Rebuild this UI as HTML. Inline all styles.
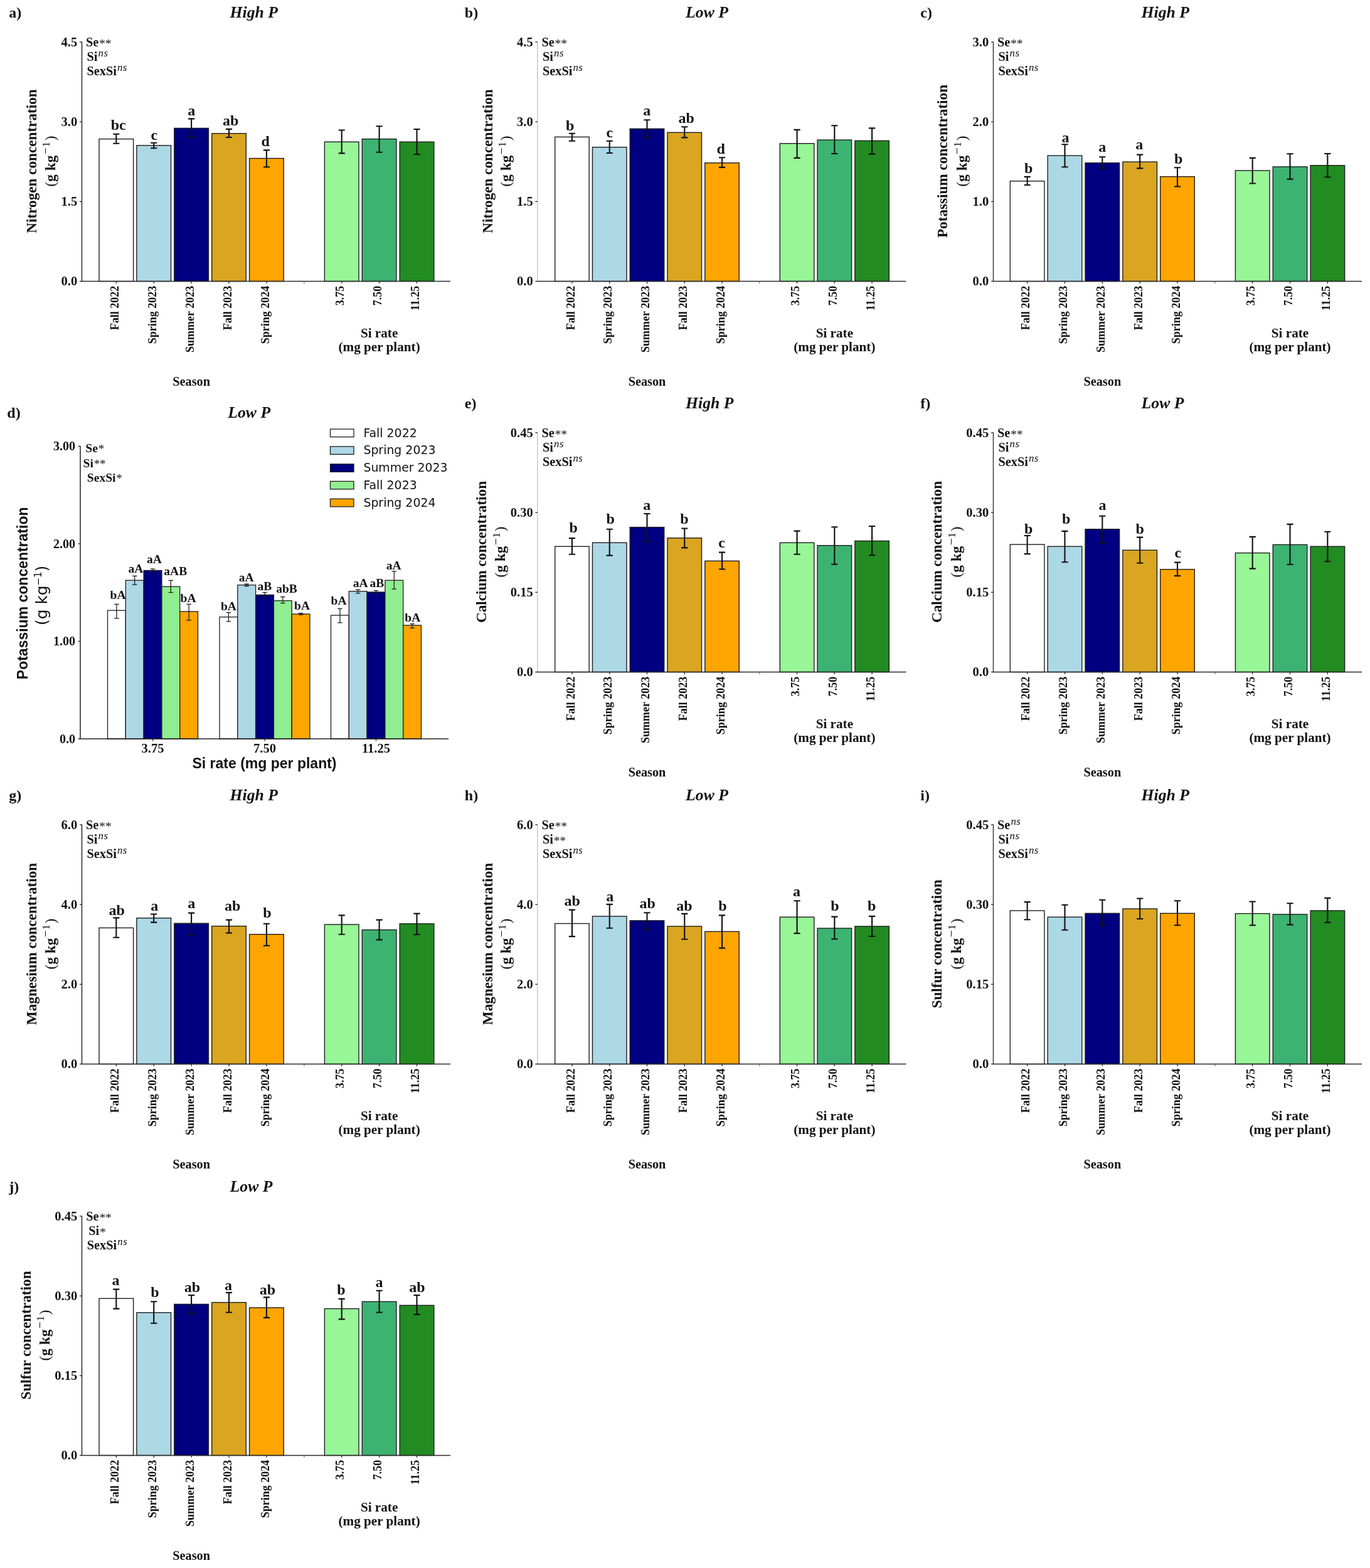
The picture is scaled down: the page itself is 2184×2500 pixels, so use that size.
<!DOCTYPE html>
<html><head><meta charset="utf-8"><title>Figure</title>
<style>html,body{margin:0;padding:0;background:#fff;}svg{display:block;}</style>
</head><body>
<svg width="2184" height="2500" viewBox="0 0 2184 2500">
<rect width="2184" height="2500" fill="#ffffff"/>
<text x="14.3" y="28.4" font-family="'Liberation Serif', 'Times New Roman', serif" font-weight="bold" font-size="24" fill="#111">a)</text>
<text x="366.6" y="28.1" font-family="'Liberation Serif', 'Times New Roman', serif" font-weight="bold" font-style="italic" font-size="25.7" fill="#111">High P</text>
<rect x="158" y="221.6" width="54.63" height="226.9" fill="#ffffff" stroke="#1e1e1e" stroke-width="1.4"/>
<rect x="217.9" y="231.9" width="54.63" height="216.6" fill="#add8e6" stroke="#1e1e1e" stroke-width="1.4"/>
<rect x="277.8" y="204.4" width="54.63" height="244.1" fill="#000080" stroke="#1e1e1e" stroke-width="1.4"/>
<rect x="337.7" y="212.8" width="54.63" height="235.7" fill="#daa520" stroke="#1e1e1e" stroke-width="1.4"/>
<rect x="397.6" y="252.5" width="54.63" height="196" fill="#ffa500" stroke="#1e1e1e" stroke-width="1.4"/>
<rect x="517.4" y="226.25" width="54.63" height="222.25" fill="#98f598" stroke="#1e1e1e" stroke-width="1.4"/>
<rect x="577.3" y="221.6" width="54.63" height="226.9" fill="#3cb371" stroke="#1e1e1e" stroke-width="1.4"/>
<rect x="637.2" y="226.25" width="54.63" height="222.25" fill="#228b22" stroke="#1e1e1e" stroke-width="1.4"/>
<path d="M185.31 213.75V228.75M180.21 213.75H190.41M180.21 228.75H190.41" stroke="#111" stroke-width="2.1" fill="none"/>
<path d="M245.21 227.8V236.25M240.11 227.8H250.31M240.11 236.25H250.31" stroke="#111" stroke-width="2.1" fill="none"/>
<path d="M305.11 189.4V218.4M300.01 189.4H310.21M300.01 218.4H310.21" stroke="#111" stroke-width="2.1" fill="none"/>
<path d="M365.01 205.9V219M359.91 205.9H370.11M359.91 219H370.11" stroke="#111" stroke-width="2.1" fill="none"/>
<path d="M424.91 239.4V266.25M419.81 239.4H430.01M419.81 266.25H430.01" stroke="#111" stroke-width="2.1" fill="none"/>
<path d="M544.71 207.5V244.4M539.61 207.5H549.81M539.61 244.4H549.81" stroke="#111" stroke-width="2.1" fill="none"/>
<path d="M604.61 201.25V242.8M599.51 201.25H609.71M599.51 242.8H609.71" stroke="#111" stroke-width="2.1" fill="none"/>
<path d="M664.51 206V246M659.41 206H669.61M659.41 246H669.61" stroke="#111" stroke-width="2.1" fill="none"/>
<text x="188.75" y="206.9" text-anchor="middle" font-family="'Liberation Serif', 'Times New Roman', serif" font-weight="bold" font-size="24" fill="#111">bc</text>
<text x="245.8" y="222.5" text-anchor="middle" font-family="'Liberation Serif', 'Times New Roman', serif" font-weight="bold" font-size="24" fill="#111">c</text>
<text x="305.3" y="184" text-anchor="middle" font-family="'Liberation Serif', 'Times New Roman', serif" font-weight="bold" font-size="24" fill="#111">a</text>
<text x="367.8" y="199.7" text-anchor="middle" font-family="'Liberation Serif', 'Times New Roman', serif" font-weight="bold" font-size="24" fill="#111">ab</text>
<text x="423.3" y="233.1" text-anchor="middle" font-family="'Liberation Serif', 'Times New Roman', serif" font-weight="bold" font-size="24" fill="#111">d</text>
<line x1="130.5" y1="66.5" x2="130.5" y2="448.5" stroke="#2a2a2a" stroke-width="1.5"/>
<line x1="129.8" y1="448.5" x2="718" y2="448.5" stroke="#2a2a2a" stroke-width="1.6"/>
<line x1="127" y1="448.5" x2="130.5" y2="448.5" stroke="#2a2a2a" stroke-width="1.3"/>
<text x="123.2" y="455.4" text-anchor="end" font-family="'Liberation Serif', 'Times New Roman', serif" font-weight="bold" font-size="20.5" fill="#111">0.0</text>
<line x1="127" y1="321.33" x2="130.5" y2="321.33" stroke="#2a2a2a" stroke-width="1.3"/>
<text x="123.2" y="328.23" text-anchor="end" font-family="'Liberation Serif', 'Times New Roman', serif" font-weight="bold" font-size="20.5" fill="#111">1.5</text>
<line x1="127" y1="194.17" x2="130.5" y2="194.17" stroke="#2a2a2a" stroke-width="1.3"/>
<text x="123.2" y="201.07" text-anchor="end" font-family="'Liberation Serif', 'Times New Roman', serif" font-weight="bold" font-size="20.5" fill="#111">3.0</text>
<line x1="127" y1="67" x2="130.5" y2="67" stroke="#2a2a2a" stroke-width="1.3"/>
<text x="123.2" y="73.9" text-anchor="end" font-family="'Liberation Serif', 'Times New Roman', serif" font-weight="bold" font-size="20.5" fill="#111">4.5</text>
<line x1="185.31" y1="448.5" x2="185.31" y2="452" stroke="#2a2a2a" stroke-width="1.3"/>
<line x1="245.21" y1="448.5" x2="245.21" y2="452" stroke="#2a2a2a" stroke-width="1.3"/>
<line x1="305.11" y1="448.5" x2="305.11" y2="452" stroke="#2a2a2a" stroke-width="1.3"/>
<line x1="365.01" y1="448.5" x2="365.01" y2="452" stroke="#2a2a2a" stroke-width="1.3"/>
<line x1="424.91" y1="448.5" x2="424.91" y2="452" stroke="#2a2a2a" stroke-width="1.3"/>
<line x1="484.81" y1="448.5" x2="484.81" y2="452" stroke="#777" stroke-width="1.3"/>
<line x1="544.71" y1="448.5" x2="544.71" y2="452" stroke="#2a2a2a" stroke-width="1.3"/>
<line x1="604.61" y1="448.5" x2="604.61" y2="452" stroke="#2a2a2a" stroke-width="1.3"/>
<line x1="664.51" y1="448.5" x2="664.51" y2="452" stroke="#2a2a2a" stroke-width="1.3"/>
<text transform="translate(188.91,455.8) rotate(-90)" text-anchor="end" font-family="'Liberation Serif', 'Times New Roman', serif" font-weight="bold" font-size="18.0" fill="#111">Fall 2022</text>
<text transform="translate(248.81,455.8) rotate(-90)" text-anchor="end" font-family="'Liberation Serif', 'Times New Roman', serif" font-weight="bold" font-size="18.0" fill="#111">Spring 2023</text>
<text transform="translate(308.71,455.8) rotate(-90)" text-anchor="end" font-family="'Liberation Serif', 'Times New Roman', serif" font-weight="bold" font-size="18.0" fill="#111">Summer 2023</text>
<text transform="translate(368.61,455.8) rotate(-90)" text-anchor="end" font-family="'Liberation Serif', 'Times New Roman', serif" font-weight="bold" font-size="18.0" fill="#111">Fall 2023</text>
<text transform="translate(428.51,455.8) rotate(-90)" text-anchor="end" font-family="'Liberation Serif', 'Times New Roman', serif" font-weight="bold" font-size="18.0" fill="#111">Spring 2024</text>
<text transform="translate(548.31,455.8) rotate(-90)" text-anchor="end" font-family="'Liberation Serif', 'Times New Roman', serif" font-weight="bold" font-size="18.0" fill="#111">3.75</text>
<text transform="translate(608.21,455.8) rotate(-90)" text-anchor="end" font-family="'Liberation Serif', 'Times New Roman', serif" font-weight="bold" font-size="18.0" fill="#111">7.50</text>
<text transform="translate(668.11,455.8) rotate(-90)" text-anchor="end" font-family="'Liberation Serif', 'Times New Roman', serif" font-weight="bold" font-size="18.0" fill="#111">11.25</text>
<text x="604.61" y="537.8" text-anchor="middle" font-family="'Liberation Serif', 'Times New Roman', serif" font-weight="bold" font-size="21.2" fill="#111">Si rate</text>
<text x="604.61" y="559.8" text-anchor="middle" font-family="'Liberation Serif', 'Times New Roman', serif" font-weight="bold" font-size="21.2" fill="#111">(mg per plant)</text>
<text x="305.11" y="614.5" text-anchor="middle" font-family="'Liberation Serif', 'Times New Roman', serif" font-weight="bold" font-size="20.3" fill="#111">Season</text>
<text x="137" y="74.4" font-family="'Liberation Serif', 'Times New Roman', serif" font-weight="bold" font-size="20.3" fill="#111">Se<tspan font-weight="normal" font-size="19.89" dx="0.8" dy="1.4" letter-spacing="-0.3">**</tspan></text>
<text x="138.5" y="97.2" font-family="'Liberation Serif', 'Times New Roman', serif" font-weight="bold" font-size="20.3" fill="#111">Si<tspan font-weight="normal" font-style="italic" font-size="16.85" dy="-7.4" dx="1.2" letter-spacing="0.4">ns</tspan></text>
<text x="138.5" y="120.2" font-family="'Liberation Serif', 'Times New Roman', serif" font-weight="bold" font-size="20.3" fill="#111">SexSi<tspan font-weight="normal" font-style="italic" font-size="16.85" dy="-7.4" dx="1.2" letter-spacing="0.4">ns</tspan></text>
<text transform="translate(58,257) rotate(-90)" text-anchor="middle" font-family="'Liberation Serif', 'Times New Roman', serif" font-weight="bold" font-size="23.2" fill="#111">Nitrogen concentration</text>
<text transform="translate(87.6,257) rotate(-90)" text-anchor="middle" font-family="'Liberation Serif', 'Times New Roman', serif" font-weight="bold" font-size="23.2" fill="#111"><tspan font-weight="normal">(</tspan>g kg<tspan font-weight="normal" font-size="19.72" dy="-8.5" dx="1.5">−</tspan><tspan font-weight="normal" font-size="17.63" dx="0.5">1</tspan><tspan font-weight="normal" dy="8.5" dx="1.5">)</tspan></text>
<text x="740.8" y="28.4" font-family="'Liberation Serif', 'Times New Roman', serif" font-weight="bold" font-size="24" fill="#111">b)</text>
<text x="1093.1" y="28.1" font-family="'Liberation Serif', 'Times New Roman', serif" font-weight="bold" font-style="italic" font-size="25.7" fill="#111">Low P</text>
<rect x="884.7" y="218.4" width="54.51" height="230.1" fill="#ffffff" stroke="#1e1e1e" stroke-width="1.4"/>
<rect x="944.47" y="234.7" width="54.51" height="213.8" fill="#add8e6" stroke="#1e1e1e" stroke-width="1.4"/>
<rect x="1004.24" y="205.3" width="54.51" height="243.2" fill="#000080" stroke="#1e1e1e" stroke-width="1.4"/>
<rect x="1064.01" y="211.25" width="54.51" height="237.25" fill="#daa520" stroke="#1e1e1e" stroke-width="1.4"/>
<rect x="1123.78" y="259.7" width="54.51" height="188.8" fill="#ffa500" stroke="#1e1e1e" stroke-width="1.4"/>
<rect x="1243.32" y="228.75" width="54.51" height="219.75" fill="#98f598" stroke="#1e1e1e" stroke-width="1.4"/>
<rect x="1303.09" y="223.1" width="54.51" height="225.4" fill="#3cb371" stroke="#1e1e1e" stroke-width="1.4"/>
<rect x="1362.86" y="224.4" width="54.51" height="224.1" fill="#228b22" stroke="#1e1e1e" stroke-width="1.4"/>
<path d="M911.96 212.8V224.7M906.86 212.8H917.06M906.86 224.7H917.06" stroke="#111" stroke-width="2.1" fill="none"/>
<path d="M971.73 224.7V244M966.63 224.7H976.83M966.63 244H976.83" stroke="#111" stroke-width="2.1" fill="none"/>
<path d="M1031.5 191.25V219.4M1026.4 191.25H1036.6M1026.4 219.4H1036.6" stroke="#111" stroke-width="2.1" fill="none"/>
<path d="M1091.27 202.2V219.4M1086.17 202.2H1096.37M1086.17 219.4H1096.37" stroke="#111" stroke-width="2.1" fill="none"/>
<path d="M1151.04 251.25V266.9M1145.94 251.25H1156.14M1145.94 266.9H1156.14" stroke="#111" stroke-width="2.1" fill="none"/>
<path d="M1270.58 206.9V251.9M1265.48 206.9H1275.68M1265.48 251.9H1275.68" stroke="#111" stroke-width="2.1" fill="none"/>
<path d="M1330.35 200.3V245M1325.25 200.3H1335.45M1325.25 245H1335.45" stroke="#111" stroke-width="2.1" fill="none"/>
<path d="M1390.12 204.4V245.6M1385.02 204.4H1395.22M1385.02 245.6H1395.22" stroke="#111" stroke-width="2.1" fill="none"/>
<text x="908.8" y="207.5" text-anchor="middle" font-family="'Liberation Serif', 'Times New Roman', serif" font-weight="bold" font-size="24" fill="#111">b</text>
<text x="971.8" y="219" text-anchor="middle" font-family="'Liberation Serif', 'Times New Roman', serif" font-weight="bold" font-size="24" fill="#111">c</text>
<text x="1031.3" y="184" text-anchor="middle" font-family="'Liberation Serif', 'Times New Roman', serif" font-weight="bold" font-size="24" fill="#111">a</text>
<text x="1094.1" y="196" text-anchor="middle" font-family="'Liberation Serif', 'Times New Roman', serif" font-weight="bold" font-size="24" fill="#111">ab</text>
<text x="1149.3" y="245" text-anchor="middle" font-family="'Liberation Serif', 'Times New Roman', serif" font-weight="bold" font-size="24" fill="#111">d</text>
<line x1="856.8" y1="66.5" x2="856.8" y2="448.5" stroke="#c8c8c8" stroke-width="1.5"/>
<line x1="856.1" y1="448.5" x2="1444.5" y2="448.5" stroke="#2a2a2a" stroke-width="1.6"/>
<line x1="853.3" y1="448.5" x2="856.8" y2="448.5" stroke="#2a2a2a" stroke-width="1.3"/>
<text x="849.7" y="455.4" text-anchor="end" font-family="'Liberation Serif', 'Times New Roman', serif" font-weight="bold" font-size="20.5" fill="#111">0.0</text>
<line x1="853.3" y1="321.33" x2="856.8" y2="321.33" stroke="#2a2a2a" stroke-width="1.3"/>
<text x="849.7" y="328.23" text-anchor="end" font-family="'Liberation Serif', 'Times New Roman', serif" font-weight="bold" font-size="20.5" fill="#111">1.5</text>
<line x1="853.3" y1="194.17" x2="856.8" y2="194.17" stroke="#2a2a2a" stroke-width="1.3"/>
<text x="849.7" y="201.07" text-anchor="end" font-family="'Liberation Serif', 'Times New Roman', serif" font-weight="bold" font-size="20.5" fill="#111">3.0</text>
<line x1="853.3" y1="67" x2="856.8" y2="67" stroke="#2a2a2a" stroke-width="1.3"/>
<text x="849.7" y="73.9" text-anchor="end" font-family="'Liberation Serif', 'Times New Roman', serif" font-weight="bold" font-size="20.5" fill="#111">4.5</text>
<line x1="911.96" y1="448.5" x2="911.96" y2="452" stroke="#2a2a2a" stroke-width="1.3"/>
<line x1="971.73" y1="448.5" x2="971.73" y2="452" stroke="#2a2a2a" stroke-width="1.3"/>
<line x1="1031.5" y1="448.5" x2="1031.5" y2="452" stroke="#2a2a2a" stroke-width="1.3"/>
<line x1="1091.27" y1="448.5" x2="1091.27" y2="452" stroke="#2a2a2a" stroke-width="1.3"/>
<line x1="1151.04" y1="448.5" x2="1151.04" y2="452" stroke="#2a2a2a" stroke-width="1.3"/>
<line x1="1210.81" y1="448.5" x2="1210.81" y2="452" stroke="#777" stroke-width="1.3"/>
<line x1="1270.58" y1="448.5" x2="1270.58" y2="452" stroke="#2a2a2a" stroke-width="1.3"/>
<line x1="1330.35" y1="448.5" x2="1330.35" y2="452" stroke="#2a2a2a" stroke-width="1.3"/>
<line x1="1390.12" y1="448.5" x2="1390.12" y2="452" stroke="#2a2a2a" stroke-width="1.3"/>
<text transform="translate(915.56,455.8) rotate(-90)" text-anchor="end" font-family="'Liberation Serif', 'Times New Roman', serif" font-weight="bold" font-size="18.0" fill="#111">Fall 2022</text>
<text transform="translate(975.33,455.8) rotate(-90)" text-anchor="end" font-family="'Liberation Serif', 'Times New Roman', serif" font-weight="bold" font-size="18.0" fill="#111">Spring 2023</text>
<text transform="translate(1035.1,455.8) rotate(-90)" text-anchor="end" font-family="'Liberation Serif', 'Times New Roman', serif" font-weight="bold" font-size="18.0" fill="#111">Summer 2023</text>
<text transform="translate(1094.87,455.8) rotate(-90)" text-anchor="end" font-family="'Liberation Serif', 'Times New Roman', serif" font-weight="bold" font-size="18.0" fill="#111">Fall 2023</text>
<text transform="translate(1154.64,455.8) rotate(-90)" text-anchor="end" font-family="'Liberation Serif', 'Times New Roman', serif" font-weight="bold" font-size="18.0" fill="#111">Spring 2024</text>
<text transform="translate(1274.18,455.8) rotate(-90)" text-anchor="end" font-family="'Liberation Serif', 'Times New Roman', serif" font-weight="bold" font-size="18.0" fill="#111">3.75</text>
<text transform="translate(1333.95,455.8) rotate(-90)" text-anchor="end" font-family="'Liberation Serif', 'Times New Roman', serif" font-weight="bold" font-size="18.0" fill="#111">7.50</text>
<text transform="translate(1393.72,455.8) rotate(-90)" text-anchor="end" font-family="'Liberation Serif', 'Times New Roman', serif" font-weight="bold" font-size="18.0" fill="#111">11.25</text>
<text x="1330.35" y="537.8" text-anchor="middle" font-family="'Liberation Serif', 'Times New Roman', serif" font-weight="bold" font-size="21.2" fill="#111">Si rate</text>
<text x="1330.35" y="559.8" text-anchor="middle" font-family="'Liberation Serif', 'Times New Roman', serif" font-weight="bold" font-size="21.2" fill="#111">(mg per plant)</text>
<text x="1031.5" y="614.5" text-anchor="middle" font-family="'Liberation Serif', 'Times New Roman', serif" font-weight="bold" font-size="20.3" fill="#111">Season</text>
<text x="863.5" y="74.4" font-family="'Liberation Serif', 'Times New Roman', serif" font-weight="bold" font-size="20.3" fill="#111">Se<tspan font-weight="normal" font-size="19.89" dx="0.8" dy="1.4" letter-spacing="-0.3">**</tspan></text>
<text x="865" y="97.2" font-family="'Liberation Serif', 'Times New Roman', serif" font-weight="bold" font-size="20.3" fill="#111">Si<tspan font-weight="normal" font-style="italic" font-size="16.85" dy="-7.4" dx="1.2" letter-spacing="0.4">ns</tspan></text>
<text x="865" y="120.2" font-family="'Liberation Serif', 'Times New Roman', serif" font-weight="bold" font-size="20.3" fill="#111">SexSi<tspan font-weight="normal" font-style="italic" font-size="16.85" dy="-7.4" dx="1.2" letter-spacing="0.4">ns</tspan></text>
<text transform="translate(784.5,257) rotate(-90)" text-anchor="middle" font-family="'Liberation Serif', 'Times New Roman', serif" font-weight="bold" font-size="23.2" fill="#111">Nitrogen concentration</text>
<text transform="translate(814.1,257) rotate(-90)" text-anchor="middle" font-family="'Liberation Serif', 'Times New Roman', serif" font-weight="bold" font-size="23.2" fill="#111"><tspan font-weight="normal">(</tspan>g kg<tspan font-weight="normal" font-size="19.72" dy="-8.5" dx="1.5">−</tspan><tspan font-weight="normal" font-size="17.63" dx="0.5">1</tspan><tspan font-weight="normal" dy="8.5" dx="1.5">)</tspan></text>
<text x="1467.3" y="28.4" font-family="'Liberation Serif', 'Times New Roman', serif" font-weight="bold" font-size="24" fill="#111">c)</text>
<text x="1819.6" y="28.1" font-family="'Liberation Serif', 'Times New Roman', serif" font-weight="bold" font-style="italic" font-size="25.7" fill="#111">High P</text>
<rect x="1610.35" y="288.75" width="54.57" height="159.75" fill="#ffffff" stroke="#1e1e1e" stroke-width="1.4"/>
<rect x="1670.19" y="248.1" width="54.57" height="200.4" fill="#add8e6" stroke="#1e1e1e" stroke-width="1.4"/>
<rect x="1730.03" y="259.7" width="54.57" height="188.8" fill="#000080" stroke="#1e1e1e" stroke-width="1.4"/>
<rect x="1789.87" y="258.1" width="54.57" height="190.4" fill="#daa520" stroke="#1e1e1e" stroke-width="1.4"/>
<rect x="1849.71" y="281.6" width="54.57" height="166.9" fill="#ffa500" stroke="#1e1e1e" stroke-width="1.4"/>
<rect x="1969.39" y="271.9" width="54.57" height="176.6" fill="#98f598" stroke="#1e1e1e" stroke-width="1.4"/>
<rect x="2029.23" y="265.9" width="54.57" height="182.6" fill="#3cb371" stroke="#1e1e1e" stroke-width="1.4"/>
<rect x="2089.07" y="263.75" width="54.57" height="184.75" fill="#228b22" stroke="#1e1e1e" stroke-width="1.4"/>
<path d="M1637.64 281.9V295M1632.54 281.9H1642.74M1632.54 295H1642.74" stroke="#111" stroke-width="2.1" fill="none"/>
<path d="M1697.48 230.3V266.25M1692.38 230.3H1702.58M1692.38 266.25H1702.58" stroke="#111" stroke-width="2.1" fill="none"/>
<path d="M1757.32 250.3V268.4M1752.22 250.3H1762.42M1752.22 268.4H1762.42" stroke="#111" stroke-width="2.1" fill="none"/>
<path d="M1817.16 246.6V268.4M1812.06 246.6H1822.26M1812.06 268.4H1822.26" stroke="#111" stroke-width="2.1" fill="none"/>
<path d="M1877 267.2V297.5M1871.9 267.2H1882.1M1871.9 297.5H1882.1" stroke="#111" stroke-width="2.1" fill="none"/>
<path d="M1996.68 251.9V292.5M1991.58 251.9H2001.78M1991.58 292.5H2001.78" stroke="#111" stroke-width="2.1" fill="none"/>
<path d="M2056.52 245.3V285.6M2051.42 245.3H2061.62M2051.42 285.6H2061.62" stroke="#111" stroke-width="2.1" fill="none"/>
<path d="M2116.36 245V282.5M2111.26 245H2121.46M2111.26 282.5H2121.46" stroke="#111" stroke-width="2.1" fill="none"/>
<text x="1639.75" y="276.25" text-anchor="middle" font-family="'Liberation Serif', 'Times New Roman', serif" font-weight="bold" font-size="24" fill="#111">b</text>
<text x="1698.5" y="226.9" text-anchor="middle" font-family="'Liberation Serif', 'Times New Roman', serif" font-weight="bold" font-size="24" fill="#111">a</text>
<text x="1757.25" y="241.9" text-anchor="middle" font-family="'Liberation Serif', 'Times New Roman', serif" font-weight="bold" font-size="24" fill="#111">a</text>
<text x="1816.2" y="238.1" text-anchor="middle" font-family="'Liberation Serif', 'Times New Roman', serif" font-weight="bold" font-size="24" fill="#111">a</text>
<text x="1878.8" y="260.6" text-anchor="middle" font-family="'Liberation Serif', 'Times New Roman', serif" font-weight="bold" font-size="24" fill="#111">b</text>
<line x1="1583.5" y1="66.5" x2="1583.5" y2="448.5" stroke="#3a3a3a" stroke-width="1.5"/>
<line x1="1582.8" y1="448.5" x2="2171" y2="448.5" stroke="#2a2a2a" stroke-width="1.6"/>
<line x1="1580" y1="448.5" x2="1583.5" y2="448.5" stroke="#2a2a2a" stroke-width="1.3"/>
<text x="1576.2" y="455.4" text-anchor="end" font-family="'Liberation Serif', 'Times New Roman', serif" font-weight="bold" font-size="20.5" fill="#111">0.0</text>
<line x1="1580" y1="321.33" x2="1583.5" y2="321.33" stroke="#2a2a2a" stroke-width="1.3"/>
<text x="1576.2" y="328.23" text-anchor="end" font-family="'Liberation Serif', 'Times New Roman', serif" font-weight="bold" font-size="20.5" fill="#111">1.0</text>
<line x1="1580" y1="194.17" x2="1583.5" y2="194.17" stroke="#2a2a2a" stroke-width="1.3"/>
<text x="1576.2" y="201.07" text-anchor="end" font-family="'Liberation Serif', 'Times New Roman', serif" font-weight="bold" font-size="20.5" fill="#111">2.0</text>
<line x1="1580" y1="67" x2="1583.5" y2="67" stroke="#2a2a2a" stroke-width="1.3"/>
<text x="1576.2" y="73.9" text-anchor="end" font-family="'Liberation Serif', 'Times New Roman', serif" font-weight="bold" font-size="20.5" fill="#111">3.0</text>
<line x1="1637.64" y1="448.5" x2="1637.64" y2="452" stroke="#2a2a2a" stroke-width="1.3"/>
<line x1="1697.48" y1="448.5" x2="1697.48" y2="452" stroke="#2a2a2a" stroke-width="1.3"/>
<line x1="1757.32" y1="448.5" x2="1757.32" y2="452" stroke="#2a2a2a" stroke-width="1.3"/>
<line x1="1817.16" y1="448.5" x2="1817.16" y2="452" stroke="#2a2a2a" stroke-width="1.3"/>
<line x1="1877" y1="448.5" x2="1877" y2="452" stroke="#2a2a2a" stroke-width="1.3"/>
<line x1="1936.84" y1="448.5" x2="1936.84" y2="452" stroke="#777" stroke-width="1.3"/>
<line x1="1996.68" y1="448.5" x2="1996.68" y2="452" stroke="#2a2a2a" stroke-width="1.3"/>
<line x1="2056.52" y1="448.5" x2="2056.52" y2="452" stroke="#2a2a2a" stroke-width="1.3"/>
<line x1="2116.36" y1="448.5" x2="2116.36" y2="452" stroke="#2a2a2a" stroke-width="1.3"/>
<text transform="translate(1641.24,455.8) rotate(-90)" text-anchor="end" font-family="'Liberation Serif', 'Times New Roman', serif" font-weight="bold" font-size="18.0" fill="#111">Fall 2022</text>
<text transform="translate(1701.08,455.8) rotate(-90)" text-anchor="end" font-family="'Liberation Serif', 'Times New Roman', serif" font-weight="bold" font-size="18.0" fill="#111">Spring 2023</text>
<text transform="translate(1760.92,455.8) rotate(-90)" text-anchor="end" font-family="'Liberation Serif', 'Times New Roman', serif" font-weight="bold" font-size="18.0" fill="#111">Summer 2023</text>
<text transform="translate(1820.76,455.8) rotate(-90)" text-anchor="end" font-family="'Liberation Serif', 'Times New Roman', serif" font-weight="bold" font-size="18.0" fill="#111">Fall 2023</text>
<text transform="translate(1880.6,455.8) rotate(-90)" text-anchor="end" font-family="'Liberation Serif', 'Times New Roman', serif" font-weight="bold" font-size="18.0" fill="#111">Spring 2024</text>
<text transform="translate(2000.28,455.8) rotate(-90)" text-anchor="end" font-family="'Liberation Serif', 'Times New Roman', serif" font-weight="bold" font-size="18.0" fill="#111">3.75</text>
<text transform="translate(2060.12,455.8) rotate(-90)" text-anchor="end" font-family="'Liberation Serif', 'Times New Roman', serif" font-weight="bold" font-size="18.0" fill="#111">7.50</text>
<text transform="translate(2119.96,455.8) rotate(-90)" text-anchor="end" font-family="'Liberation Serif', 'Times New Roman', serif" font-weight="bold" font-size="18.0" fill="#111">11.25</text>
<text x="2056.52" y="537.8" text-anchor="middle" font-family="'Liberation Serif', 'Times New Roman', serif" font-weight="bold" font-size="21.2" fill="#111">Si rate</text>
<text x="2056.52" y="559.8" text-anchor="middle" font-family="'Liberation Serif', 'Times New Roman', serif" font-weight="bold" font-size="21.2" fill="#111">(mg per plant)</text>
<text x="1757.32" y="614.5" text-anchor="middle" font-family="'Liberation Serif', 'Times New Roman', serif" font-weight="bold" font-size="20.3" fill="#111">Season</text>
<text x="1590" y="74.4" font-family="'Liberation Serif', 'Times New Roman', serif" font-weight="bold" font-size="20.3" fill="#111">Se<tspan font-weight="normal" font-size="19.89" dx="0.8" dy="1.4" letter-spacing="-0.3">**</tspan></text>
<text x="1591.5" y="97.2" font-family="'Liberation Serif', 'Times New Roman', serif" font-weight="bold" font-size="20.3" fill="#111">Si<tspan font-weight="normal" font-style="italic" font-size="16.85" dy="-7.4" dx="1.2" letter-spacing="0.4">ns</tspan></text>
<text x="1591.5" y="120.2" font-family="'Liberation Serif', 'Times New Roman', serif" font-weight="bold" font-size="20.3" fill="#111">SexSi<tspan font-weight="normal" font-style="italic" font-size="16.85" dy="-7.4" dx="1.2" letter-spacing="0.4">ns</tspan></text>
<text transform="translate(1510,257) rotate(-90)" text-anchor="middle" font-family="'Liberation Serif', 'Times New Roman', serif" font-weight="bold" font-size="23.2" fill="#111">Potassium concentration</text>
<text transform="translate(1540.5,257) rotate(-90)" text-anchor="middle" font-family="'Liberation Serif', 'Times New Roman', serif" font-weight="bold" font-size="23.2" fill="#111"><tspan font-weight="normal">(</tspan>g kg<tspan font-weight="normal" font-size="19.72" dy="-8.5" dx="1.5">−</tspan><tspan font-weight="normal" font-size="17.63" dx="0.5">1</tspan><tspan font-weight="normal" dy="8.5" dx="1.5">)</tspan></text>
<text x="740.8" y="651.4" font-family="'Liberation Serif', 'Times New Roman', serif" font-weight="bold" font-size="24" fill="#111">e)</text>
<text x="1093.1" y="651.1" font-family="'Liberation Serif', 'Times New Roman', serif" font-weight="bold" font-style="italic" font-size="25.7" fill="#111">High P</text>
<rect x="884.7" y="871.25" width="54.51" height="200.25" fill="#ffffff" stroke="#1e1e1e" stroke-width="1.4"/>
<rect x="944.47" y="865.3" width="54.51" height="206.2" fill="#add8e6" stroke="#1e1e1e" stroke-width="1.4"/>
<rect x="1004.24" y="840.6" width="54.51" height="230.9" fill="#000080" stroke="#1e1e1e" stroke-width="1.4"/>
<rect x="1064.01" y="857.8" width="54.51" height="213.7" fill="#daa520" stroke="#1e1e1e" stroke-width="1.4"/>
<rect x="1123.78" y="894.4" width="54.51" height="177.1" fill="#ffa500" stroke="#1e1e1e" stroke-width="1.4"/>
<rect x="1243.32" y="865.3" width="54.51" height="206.2" fill="#98f598" stroke="#1e1e1e" stroke-width="1.4"/>
<rect x="1303.09" y="869.7" width="54.51" height="201.8" fill="#3cb371" stroke="#1e1e1e" stroke-width="1.4"/>
<rect x="1362.86" y="862.5" width="54.51" height="209" fill="#228b22" stroke="#1e1e1e" stroke-width="1.4"/>
<path d="M911.96 858.1V883.75M906.86 858.1H917.06M906.86 883.75H917.06" stroke="#111" stroke-width="2.1" fill="none"/>
<path d="M971.73 843.75V885.6M966.63 843.75H976.83M966.63 885.6H976.83" stroke="#111" stroke-width="2.1" fill="none"/>
<path d="M1031.5 819V863.4M1026.4 819H1036.6M1026.4 863.4H1036.6" stroke="#111" stroke-width="2.1" fill="none"/>
<path d="M1091.27 842.5V873.4M1086.17 842.5H1096.37M1086.17 873.4H1096.37" stroke="#111" stroke-width="2.1" fill="none"/>
<path d="M1151.04 880.6V907.5M1145.94 880.6H1156.14M1145.94 907.5H1156.14" stroke="#111" stroke-width="2.1" fill="none"/>
<path d="M1270.58 846.6V883.75M1265.48 846.6H1275.68M1265.48 883.75H1275.68" stroke="#111" stroke-width="2.1" fill="none"/>
<path d="M1330.35 840.3V899.7M1325.25 840.3H1335.45M1325.25 899.7H1335.45" stroke="#111" stroke-width="2.1" fill="none"/>
<path d="M1390.12 839V885.3M1385.02 839H1395.22M1385.02 885.3H1395.22" stroke="#111" stroke-width="2.1" fill="none"/>
<text x="914.2" y="849.4" text-anchor="middle" font-family="'Liberation Serif', 'Times New Roman', serif" font-weight="bold" font-size="24" fill="#111">b</text>
<text x="973.2" y="834.7" text-anchor="middle" font-family="'Liberation Serif', 'Times New Roman', serif" font-weight="bold" font-size="24" fill="#111">b</text>
<text x="1031.3" y="812.5" text-anchor="middle" font-family="'Liberation Serif', 'Times New Roman', serif" font-weight="bold" font-size="24" fill="#111">a</text>
<text x="1091" y="834.7" text-anchor="middle" font-family="'Liberation Serif', 'Times New Roman', serif" font-weight="bold" font-size="24" fill="#111">b</text>
<text x="1150.5" y="872.8" text-anchor="middle" font-family="'Liberation Serif', 'Times New Roman', serif" font-weight="bold" font-size="24" fill="#111">c</text>
<line x1="856.8" y1="689.5" x2="856.8" y2="1071.5" stroke="#c8c8c8" stroke-width="1.5"/>
<line x1="856.1" y1="1071.5" x2="1444.5" y2="1071.5" stroke="#2a2a2a" stroke-width="1.6"/>
<line x1="853.3" y1="1071.5" x2="856.8" y2="1071.5" stroke="#2a2a2a" stroke-width="1.3"/>
<text x="849.7" y="1078.4" text-anchor="end" font-family="'Liberation Serif', 'Times New Roman', serif" font-weight="bold" font-size="20.5" fill="#111">0.0</text>
<line x1="853.3" y1="944.33" x2="856.8" y2="944.33" stroke="#2a2a2a" stroke-width="1.3"/>
<text x="849.7" y="951.23" text-anchor="end" font-family="'Liberation Serif', 'Times New Roman', serif" font-weight="bold" font-size="20.5" fill="#111">0.15</text>
<line x1="853.3" y1="817.17" x2="856.8" y2="817.17" stroke="#2a2a2a" stroke-width="1.3"/>
<text x="849.7" y="824.07" text-anchor="end" font-family="'Liberation Serif', 'Times New Roman', serif" font-weight="bold" font-size="20.5" fill="#111">0.30</text>
<line x1="853.3" y1="690" x2="856.8" y2="690" stroke="#2a2a2a" stroke-width="1.3"/>
<text x="849.7" y="696.9" text-anchor="end" font-family="'Liberation Serif', 'Times New Roman', serif" font-weight="bold" font-size="20.5" fill="#111">0.45</text>
<line x1="911.96" y1="1071.5" x2="911.96" y2="1075" stroke="#2a2a2a" stroke-width="1.3"/>
<line x1="971.73" y1="1071.5" x2="971.73" y2="1075" stroke="#2a2a2a" stroke-width="1.3"/>
<line x1="1031.5" y1="1071.5" x2="1031.5" y2="1075" stroke="#2a2a2a" stroke-width="1.3"/>
<line x1="1091.27" y1="1071.5" x2="1091.27" y2="1075" stroke="#2a2a2a" stroke-width="1.3"/>
<line x1="1151.04" y1="1071.5" x2="1151.04" y2="1075" stroke="#2a2a2a" stroke-width="1.3"/>
<line x1="1210.81" y1="1071.5" x2="1210.81" y2="1075" stroke="#777" stroke-width="1.3"/>
<line x1="1270.58" y1="1071.5" x2="1270.58" y2="1075" stroke="#2a2a2a" stroke-width="1.3"/>
<line x1="1330.35" y1="1071.5" x2="1330.35" y2="1075" stroke="#2a2a2a" stroke-width="1.3"/>
<line x1="1390.12" y1="1071.5" x2="1390.12" y2="1075" stroke="#2a2a2a" stroke-width="1.3"/>
<text transform="translate(915.56,1078.8) rotate(-90)" text-anchor="end" font-family="'Liberation Serif', 'Times New Roman', serif" font-weight="bold" font-size="18.0" fill="#111">Fall 2022</text>
<text transform="translate(975.33,1078.8) rotate(-90)" text-anchor="end" font-family="'Liberation Serif', 'Times New Roman', serif" font-weight="bold" font-size="18.0" fill="#111">Spring 2023</text>
<text transform="translate(1035.1,1078.8) rotate(-90)" text-anchor="end" font-family="'Liberation Serif', 'Times New Roman', serif" font-weight="bold" font-size="18.0" fill="#111">Summer 2023</text>
<text transform="translate(1094.87,1078.8) rotate(-90)" text-anchor="end" font-family="'Liberation Serif', 'Times New Roman', serif" font-weight="bold" font-size="18.0" fill="#111">Fall 2023</text>
<text transform="translate(1154.64,1078.8) rotate(-90)" text-anchor="end" font-family="'Liberation Serif', 'Times New Roman', serif" font-weight="bold" font-size="18.0" fill="#111">Spring 2024</text>
<text transform="translate(1274.18,1078.8) rotate(-90)" text-anchor="end" font-family="'Liberation Serif', 'Times New Roman', serif" font-weight="bold" font-size="18.0" fill="#111">3.75</text>
<text transform="translate(1333.95,1078.8) rotate(-90)" text-anchor="end" font-family="'Liberation Serif', 'Times New Roman', serif" font-weight="bold" font-size="18.0" fill="#111">7.50</text>
<text transform="translate(1393.72,1078.8) rotate(-90)" text-anchor="end" font-family="'Liberation Serif', 'Times New Roman', serif" font-weight="bold" font-size="18.0" fill="#111">11.25</text>
<text x="1330.35" y="1160.8" text-anchor="middle" font-family="'Liberation Serif', 'Times New Roman', serif" font-weight="bold" font-size="21.2" fill="#111">Si rate</text>
<text x="1330.35" y="1182.8" text-anchor="middle" font-family="'Liberation Serif', 'Times New Roman', serif" font-weight="bold" font-size="21.2" fill="#111">(mg per plant)</text>
<text x="1031.5" y="1237.5" text-anchor="middle" font-family="'Liberation Serif', 'Times New Roman', serif" font-weight="bold" font-size="20.3" fill="#111">Season</text>
<text x="863.5" y="697.4" font-family="'Liberation Serif', 'Times New Roman', serif" font-weight="bold" font-size="20.3" fill="#111">Se<tspan font-weight="normal" font-size="19.89" dx="0.8" dy="1.4" letter-spacing="-0.3">**</tspan></text>
<text x="865" y="720.2" font-family="'Liberation Serif', 'Times New Roman', serif" font-weight="bold" font-size="20.3" fill="#111">Si<tspan font-weight="normal" font-style="italic" font-size="16.85" dy="-7.4" dx="1.2" letter-spacing="0.4">ns</tspan></text>
<text x="865" y="743.2" font-family="'Liberation Serif', 'Times New Roman', serif" font-weight="bold" font-size="20.3" fill="#111">SexSi<tspan font-weight="normal" font-style="italic" font-size="16.85" dy="-7.4" dx="1.2" letter-spacing="0.4">ns</tspan></text>
<text transform="translate(774.7,880) rotate(-90)" text-anchor="middle" font-family="'Liberation Serif', 'Times New Roman', serif" font-weight="bold" font-size="23.2" fill="#111">Calcium concentration</text>
<text transform="translate(805,880) rotate(-90)" text-anchor="middle" font-family="'Liberation Serif', 'Times New Roman', serif" font-weight="bold" font-size="23.2" fill="#111"><tspan font-weight="normal">(</tspan>g kg<tspan font-weight="normal" font-size="19.72" dy="-8.5" dx="1.5">−</tspan><tspan font-weight="normal" font-size="17.63" dx="0.5">1</tspan><tspan font-weight="normal" dy="8.5" dx="1.5">)</tspan></text>
<text x="1467.3" y="651.4" font-family="'Liberation Serif', 'Times New Roman', serif" font-weight="bold" font-size="24" fill="#111">f)</text>
<text x="1819.6" y="651.1" font-family="'Liberation Serif', 'Times New Roman', serif" font-weight="bold" font-style="italic" font-size="25.7" fill="#111">Low P</text>
<rect x="1610.35" y="868.1" width="54.57" height="203.4" fill="#ffffff" stroke="#1e1e1e" stroke-width="1.4"/>
<rect x="1670.19" y="871.25" width="54.57" height="200.25" fill="#add8e6" stroke="#1e1e1e" stroke-width="1.4"/>
<rect x="1730.03" y="843.75" width="54.57" height="227.75" fill="#000080" stroke="#1e1e1e" stroke-width="1.4"/>
<rect x="1789.87" y="877.2" width="54.57" height="194.3" fill="#daa520" stroke="#1e1e1e" stroke-width="1.4"/>
<rect x="1849.71" y="907.8" width="54.57" height="163.7" fill="#ffa500" stroke="#1e1e1e" stroke-width="1.4"/>
<rect x="1969.39" y="881.6" width="54.57" height="189.9" fill="#98f598" stroke="#1e1e1e" stroke-width="1.4"/>
<rect x="2029.23" y="868.4" width="54.57" height="203.1" fill="#3cb371" stroke="#1e1e1e" stroke-width="1.4"/>
<rect x="2089.07" y="871.25" width="54.57" height="200.25" fill="#228b22" stroke="#1e1e1e" stroke-width="1.4"/>
<path d="M1637.64 854V883.1M1632.54 854H1642.74M1632.54 883.1H1642.74" stroke="#111" stroke-width="2.1" fill="none"/>
<path d="M1697.48 846.9V896.25M1692.38 846.9H1702.58M1692.38 896.25H1702.58" stroke="#111" stroke-width="2.1" fill="none"/>
<path d="M1757.32 822.8V866.6M1752.22 822.8H1762.42M1752.22 866.6H1762.42" stroke="#111" stroke-width="2.1" fill="none"/>
<path d="M1817.16 856.6V897.8M1812.06 856.6H1822.26M1812.06 897.8H1822.26" stroke="#111" stroke-width="2.1" fill="none"/>
<path d="M1877 896.6V918.1M1871.9 896.6H1882.1M1871.9 918.1H1882.1" stroke="#111" stroke-width="2.1" fill="none"/>
<path d="M1996.68 855.9V906.6M1991.58 855.9H2001.78M1991.58 906.6H2001.78" stroke="#111" stroke-width="2.1" fill="none"/>
<path d="M2056.52 835.9V900M2051.42 835.9H2061.62M2051.42 900H2061.62" stroke="#111" stroke-width="2.1" fill="none"/>
<path d="M2116.36 847.8V895.3M2111.26 847.8H2121.46M2111.26 895.3H2121.46" stroke="#111" stroke-width="2.1" fill="none"/>
<text x="1639.75" y="850.9" text-anchor="middle" font-family="'Liberation Serif', 'Times New Roman', serif" font-weight="bold" font-size="24" fill="#111">b</text>
<text x="1699.75" y="835.3" text-anchor="middle" font-family="'Liberation Serif', 'Times New Roman', serif" font-weight="bold" font-size="24" fill="#111">b</text>
<text x="1757.4" y="812.5" text-anchor="middle" font-family="'Liberation Serif', 'Times New Roman', serif" font-weight="bold" font-size="24" fill="#111">a</text>
<text x="1817.25" y="850.9" text-anchor="middle" font-family="'Liberation Serif', 'Times New Roman', serif" font-weight="bold" font-size="24" fill="#111">b</text>
<text x="1877.75" y="889.4" text-anchor="middle" font-family="'Liberation Serif', 'Times New Roman', serif" font-weight="bold" font-size="24" fill="#111">c</text>
<line x1="1583.5" y1="689.5" x2="1583.5" y2="1071.5" stroke="#3a3a3a" stroke-width="1.5"/>
<line x1="1582.8" y1="1071.5" x2="2171" y2="1071.5" stroke="#2a2a2a" stroke-width="1.6"/>
<line x1="1580" y1="1071.5" x2="1583.5" y2="1071.5" stroke="#2a2a2a" stroke-width="1.3"/>
<text x="1576.2" y="1078.4" text-anchor="end" font-family="'Liberation Serif', 'Times New Roman', serif" font-weight="bold" font-size="20.5" fill="#111">0.0</text>
<line x1="1580" y1="944.33" x2="1583.5" y2="944.33" stroke="#2a2a2a" stroke-width="1.3"/>
<text x="1576.2" y="951.23" text-anchor="end" font-family="'Liberation Serif', 'Times New Roman', serif" font-weight="bold" font-size="20.5" fill="#111">0.15</text>
<line x1="1580" y1="817.17" x2="1583.5" y2="817.17" stroke="#2a2a2a" stroke-width="1.3"/>
<text x="1576.2" y="824.07" text-anchor="end" font-family="'Liberation Serif', 'Times New Roman', serif" font-weight="bold" font-size="20.5" fill="#111">0.30</text>
<line x1="1580" y1="690" x2="1583.5" y2="690" stroke="#2a2a2a" stroke-width="1.3"/>
<text x="1576.2" y="696.9" text-anchor="end" font-family="'Liberation Serif', 'Times New Roman', serif" font-weight="bold" font-size="20.5" fill="#111">0.45</text>
<line x1="1637.64" y1="1071.5" x2="1637.64" y2="1075" stroke="#2a2a2a" stroke-width="1.3"/>
<line x1="1697.48" y1="1071.5" x2="1697.48" y2="1075" stroke="#2a2a2a" stroke-width="1.3"/>
<line x1="1757.32" y1="1071.5" x2="1757.32" y2="1075" stroke="#2a2a2a" stroke-width="1.3"/>
<line x1="1817.16" y1="1071.5" x2="1817.16" y2="1075" stroke="#2a2a2a" stroke-width="1.3"/>
<line x1="1877" y1="1071.5" x2="1877" y2="1075" stroke="#2a2a2a" stroke-width="1.3"/>
<line x1="1936.84" y1="1071.5" x2="1936.84" y2="1075" stroke="#777" stroke-width="1.3"/>
<line x1="1996.68" y1="1071.5" x2="1996.68" y2="1075" stroke="#2a2a2a" stroke-width="1.3"/>
<line x1="2056.52" y1="1071.5" x2="2056.52" y2="1075" stroke="#2a2a2a" stroke-width="1.3"/>
<line x1="2116.36" y1="1071.5" x2="2116.36" y2="1075" stroke="#2a2a2a" stroke-width="1.3"/>
<text transform="translate(1641.24,1078.8) rotate(-90)" text-anchor="end" font-family="'Liberation Serif', 'Times New Roman', serif" font-weight="bold" font-size="18.0" fill="#111">Fall 2022</text>
<text transform="translate(1701.08,1078.8) rotate(-90)" text-anchor="end" font-family="'Liberation Serif', 'Times New Roman', serif" font-weight="bold" font-size="18.0" fill="#111">Spring 2023</text>
<text transform="translate(1760.92,1078.8) rotate(-90)" text-anchor="end" font-family="'Liberation Serif', 'Times New Roman', serif" font-weight="bold" font-size="18.0" fill="#111">Summer 2023</text>
<text transform="translate(1820.76,1078.8) rotate(-90)" text-anchor="end" font-family="'Liberation Serif', 'Times New Roman', serif" font-weight="bold" font-size="18.0" fill="#111">Fall 2023</text>
<text transform="translate(1880.6,1078.8) rotate(-90)" text-anchor="end" font-family="'Liberation Serif', 'Times New Roman', serif" font-weight="bold" font-size="18.0" fill="#111">Spring 2024</text>
<text transform="translate(2000.28,1078.8) rotate(-90)" text-anchor="end" font-family="'Liberation Serif', 'Times New Roman', serif" font-weight="bold" font-size="18.0" fill="#111">3.75</text>
<text transform="translate(2060.12,1078.8) rotate(-90)" text-anchor="end" font-family="'Liberation Serif', 'Times New Roman', serif" font-weight="bold" font-size="18.0" fill="#111">7.50</text>
<text transform="translate(2119.96,1078.8) rotate(-90)" text-anchor="end" font-family="'Liberation Serif', 'Times New Roman', serif" font-weight="bold" font-size="18.0" fill="#111">11.25</text>
<text x="2056.52" y="1160.8" text-anchor="middle" font-family="'Liberation Serif', 'Times New Roman', serif" font-weight="bold" font-size="21.2" fill="#111">Si rate</text>
<text x="2056.52" y="1182.8" text-anchor="middle" font-family="'Liberation Serif', 'Times New Roman', serif" font-weight="bold" font-size="21.2" fill="#111">(mg per plant)</text>
<text x="1757.32" y="1237.5" text-anchor="middle" font-family="'Liberation Serif', 'Times New Roman', serif" font-weight="bold" font-size="20.3" fill="#111">Season</text>
<text x="1590" y="697.4" font-family="'Liberation Serif', 'Times New Roman', serif" font-weight="bold" font-size="20.3" fill="#111">Se<tspan font-weight="normal" font-size="19.89" dx="0.8" dy="1.4" letter-spacing="-0.3">**</tspan></text>
<text x="1591.5" y="720.2" font-family="'Liberation Serif', 'Times New Roman', serif" font-weight="bold" font-size="20.3" fill="#111">Si<tspan font-weight="normal" font-style="italic" font-size="16.85" dy="-7.4" dx="1.2" letter-spacing="0.4">ns</tspan></text>
<text x="1591.5" y="743.2" font-family="'Liberation Serif', 'Times New Roman', serif" font-weight="bold" font-size="20.3" fill="#111">SexSi<tspan font-weight="normal" font-style="italic" font-size="16.85" dy="-7.4" dx="1.2" letter-spacing="0.4">ns</tspan></text>
<text transform="translate(1501.2,880) rotate(-90)" text-anchor="middle" font-family="'Liberation Serif', 'Times New Roman', serif" font-weight="bold" font-size="23.2" fill="#111">Calcium concentration</text>
<text transform="translate(1531.5,880) rotate(-90)" text-anchor="middle" font-family="'Liberation Serif', 'Times New Roman', serif" font-weight="bold" font-size="23.2" fill="#111"><tspan font-weight="normal">(</tspan>g kg<tspan font-weight="normal" font-size="19.72" dy="-8.5" dx="1.5">−</tspan><tspan font-weight="normal" font-size="17.63" dx="0.5">1</tspan><tspan font-weight="normal" dy="8.5" dx="1.5">)</tspan></text>
<text x="14.3" y="1276.4" font-family="'Liberation Serif', 'Times New Roman', serif" font-weight="bold" font-size="24" fill="#111">g)</text>
<text x="366.6" y="1276.1" font-family="'Liberation Serif', 'Times New Roman', serif" font-weight="bold" font-style="italic" font-size="25.7" fill="#111">High P</text>
<rect x="158" y="1479.4" width="54.63" height="217.1" fill="#ffffff" stroke="#1e1e1e" stroke-width="1.4"/>
<rect x="217.9" y="1463.75" width="54.63" height="232.75" fill="#add8e6" stroke="#1e1e1e" stroke-width="1.4"/>
<rect x="277.8" y="1472.2" width="54.63" height="224.3" fill="#000080" stroke="#1e1e1e" stroke-width="1.4"/>
<rect x="337.7" y="1476.6" width="54.63" height="219.9" fill="#daa520" stroke="#1e1e1e" stroke-width="1.4"/>
<rect x="397.6" y="1489.7" width="54.63" height="206.8" fill="#ffa500" stroke="#1e1e1e" stroke-width="1.4"/>
<rect x="517.4" y="1474" width="54.63" height="222.5" fill="#98f598" stroke="#1e1e1e" stroke-width="1.4"/>
<rect x="577.3" y="1482.5" width="54.63" height="214" fill="#3cb371" stroke="#1e1e1e" stroke-width="1.4"/>
<rect x="637.2" y="1472.8" width="54.63" height="223.7" fill="#228b22" stroke="#1e1e1e" stroke-width="1.4"/>
<path d="M185.31 1463.4V1494.7M180.21 1463.4H190.41M180.21 1494.7H190.41" stroke="#111" stroke-width="2.1" fill="none"/>
<path d="M245.21 1457.5V1470.6M240.11 1457.5H250.31M240.11 1470.6H250.31" stroke="#111" stroke-width="2.1" fill="none"/>
<path d="M305.11 1455.6V1491.25M300.01 1455.6H310.21M300.01 1491.25H310.21" stroke="#111" stroke-width="2.1" fill="none"/>
<path d="M365.01 1466.6V1487.5M359.91 1466.6H370.11M359.91 1487.5H370.11" stroke="#111" stroke-width="2.1" fill="none"/>
<path d="M424.91 1472.8V1507.8M419.81 1472.8H430.01M419.81 1507.8H430.01" stroke="#111" stroke-width="2.1" fill="none"/>
<path d="M544.71 1459.4V1489.7M539.61 1459.4H549.81M539.61 1489.7H549.81" stroke="#111" stroke-width="2.1" fill="none"/>
<path d="M604.61 1466.6V1498.4M599.51 1466.6H609.71M599.51 1498.4H609.71" stroke="#111" stroke-width="2.1" fill="none"/>
<path d="M664.51 1456.6V1490M659.41 1456.6H669.61M659.41 1490H669.61" stroke="#111" stroke-width="2.1" fill="none"/>
<text x="186.1" y="1459.4" text-anchor="middle" font-family="'Liberation Serif', 'Times New Roman', serif" font-weight="bold" font-size="24" fill="#111">ab</text>
<text x="246.25" y="1451.6" text-anchor="middle" font-family="'Liberation Serif', 'Times New Roman', serif" font-weight="bold" font-size="24" fill="#111">a</text>
<text x="305.3" y="1448.4" text-anchor="middle" font-family="'Liberation Serif', 'Times New Roman', serif" font-weight="bold" font-size="24" fill="#111">a</text>
<text x="370.8" y="1451.6" text-anchor="middle" font-family="'Liberation Serif', 'Times New Roman', serif" font-weight="bold" font-size="24" fill="#111">ab</text>
<text x="425.9" y="1462.5" text-anchor="middle" font-family="'Liberation Serif', 'Times New Roman', serif" font-weight="bold" font-size="24" fill="#111">b</text>
<line x1="130.5" y1="1314.5" x2="130.5" y2="1696.5" stroke="#2a2a2a" stroke-width="1.5"/>
<line x1="129.8" y1="1696.5" x2="718" y2="1696.5" stroke="#2a2a2a" stroke-width="1.6"/>
<line x1="127" y1="1696.5" x2="130.5" y2="1696.5" stroke="#2a2a2a" stroke-width="1.3"/>
<text x="123.2" y="1703.4" text-anchor="end" font-family="'Liberation Serif', 'Times New Roman', serif" font-weight="bold" font-size="20.5" fill="#111">0.0</text>
<line x1="127" y1="1569.33" x2="130.5" y2="1569.33" stroke="#2a2a2a" stroke-width="1.3"/>
<text x="123.2" y="1576.23" text-anchor="end" font-family="'Liberation Serif', 'Times New Roman', serif" font-weight="bold" font-size="20.5" fill="#111">2.0</text>
<line x1="127" y1="1442.17" x2="130.5" y2="1442.17" stroke="#2a2a2a" stroke-width="1.3"/>
<text x="123.2" y="1449.07" text-anchor="end" font-family="'Liberation Serif', 'Times New Roman', serif" font-weight="bold" font-size="20.5" fill="#111">4.0</text>
<line x1="127" y1="1315" x2="130.5" y2="1315" stroke="#2a2a2a" stroke-width="1.3"/>
<text x="123.2" y="1321.9" text-anchor="end" font-family="'Liberation Serif', 'Times New Roman', serif" font-weight="bold" font-size="20.5" fill="#111">6.0</text>
<line x1="185.31" y1="1696.5" x2="185.31" y2="1700" stroke="#2a2a2a" stroke-width="1.3"/>
<line x1="245.21" y1="1696.5" x2="245.21" y2="1700" stroke="#2a2a2a" stroke-width="1.3"/>
<line x1="305.11" y1="1696.5" x2="305.11" y2="1700" stroke="#2a2a2a" stroke-width="1.3"/>
<line x1="365.01" y1="1696.5" x2="365.01" y2="1700" stroke="#2a2a2a" stroke-width="1.3"/>
<line x1="424.91" y1="1696.5" x2="424.91" y2="1700" stroke="#2a2a2a" stroke-width="1.3"/>
<line x1="484.81" y1="1696.5" x2="484.81" y2="1700" stroke="#777" stroke-width="1.3"/>
<line x1="544.71" y1="1696.5" x2="544.71" y2="1700" stroke="#2a2a2a" stroke-width="1.3"/>
<line x1="604.61" y1="1696.5" x2="604.61" y2="1700" stroke="#2a2a2a" stroke-width="1.3"/>
<line x1="664.51" y1="1696.5" x2="664.51" y2="1700" stroke="#2a2a2a" stroke-width="1.3"/>
<text transform="translate(188.91,1703.8) rotate(-90)" text-anchor="end" font-family="'Liberation Serif', 'Times New Roman', serif" font-weight="bold" font-size="18.0" fill="#111">Fall 2022</text>
<text transform="translate(248.81,1703.8) rotate(-90)" text-anchor="end" font-family="'Liberation Serif', 'Times New Roman', serif" font-weight="bold" font-size="18.0" fill="#111">Spring 2023</text>
<text transform="translate(308.71,1703.8) rotate(-90)" text-anchor="end" font-family="'Liberation Serif', 'Times New Roman', serif" font-weight="bold" font-size="18.0" fill="#111">Summer 2023</text>
<text transform="translate(368.61,1703.8) rotate(-90)" text-anchor="end" font-family="'Liberation Serif', 'Times New Roman', serif" font-weight="bold" font-size="18.0" fill="#111">Fall 2023</text>
<text transform="translate(428.51,1703.8) rotate(-90)" text-anchor="end" font-family="'Liberation Serif', 'Times New Roman', serif" font-weight="bold" font-size="18.0" fill="#111">Spring 2024</text>
<text transform="translate(548.31,1703.8) rotate(-90)" text-anchor="end" font-family="'Liberation Serif', 'Times New Roman', serif" font-weight="bold" font-size="18.0" fill="#111">3.75</text>
<text transform="translate(608.21,1703.8) rotate(-90)" text-anchor="end" font-family="'Liberation Serif', 'Times New Roman', serif" font-weight="bold" font-size="18.0" fill="#111">7.50</text>
<text transform="translate(668.11,1703.8) rotate(-90)" text-anchor="end" font-family="'Liberation Serif', 'Times New Roman', serif" font-weight="bold" font-size="18.0" fill="#111">11.25</text>
<text x="604.61" y="1785.8" text-anchor="middle" font-family="'Liberation Serif', 'Times New Roman', serif" font-weight="bold" font-size="21.2" fill="#111">Si rate</text>
<text x="604.61" y="1807.8" text-anchor="middle" font-family="'Liberation Serif', 'Times New Roman', serif" font-weight="bold" font-size="21.2" fill="#111">(mg per plant)</text>
<text x="305.11" y="1862.5" text-anchor="middle" font-family="'Liberation Serif', 'Times New Roman', serif" font-weight="bold" font-size="20.3" fill="#111">Season</text>
<text x="137" y="1322.4" font-family="'Liberation Serif', 'Times New Roman', serif" font-weight="bold" font-size="20.3" fill="#111">Se<tspan font-weight="normal" font-size="19.89" dx="0.8" dy="1.4" letter-spacing="-0.3">**</tspan></text>
<text x="138.5" y="1345.2" font-family="'Liberation Serif', 'Times New Roman', serif" font-weight="bold" font-size="20.3" fill="#111">Si<tspan font-weight="normal" font-style="italic" font-size="16.85" dy="-7.4" dx="1.2" letter-spacing="0.4">ns</tspan></text>
<text x="138.5" y="1368.2" font-family="'Liberation Serif', 'Times New Roman', serif" font-weight="bold" font-size="20.3" fill="#111">SexSi<tspan font-weight="normal" font-style="italic" font-size="16.85" dy="-7.4" dx="1.2" letter-spacing="0.4">ns</tspan></text>
<text transform="translate(58,1505) rotate(-90)" text-anchor="middle" font-family="'Liberation Serif', 'Times New Roman', serif" font-weight="bold" font-size="23.2" fill="#111">Magnesium concentration</text>
<text transform="translate(87.6,1505) rotate(-90)" text-anchor="middle" font-family="'Liberation Serif', 'Times New Roman', serif" font-weight="bold" font-size="23.2" fill="#111"><tspan font-weight="normal">(</tspan>g kg<tspan font-weight="normal" font-size="19.72" dy="-8.5" dx="1.5">−</tspan><tspan font-weight="normal" font-size="17.63" dx="0.5">1</tspan><tspan font-weight="normal" dy="8.5" dx="1.5">)</tspan></text>
<text x="740.8" y="1276.4" font-family="'Liberation Serif', 'Times New Roman', serif" font-weight="bold" font-size="24" fill="#111">h)</text>
<text x="1093.1" y="1276.1" font-family="'Liberation Serif', 'Times New Roman', serif" font-weight="bold" font-style="italic" font-size="25.7" fill="#111">Low P</text>
<rect x="884.7" y="1472.5" width="54.51" height="224" fill="#ffffff" stroke="#1e1e1e" stroke-width="1.4"/>
<rect x="944.47" y="1460.9" width="54.51" height="235.6" fill="#add8e6" stroke="#1e1e1e" stroke-width="1.4"/>
<rect x="1004.24" y="1467.8" width="54.51" height="228.7" fill="#000080" stroke="#1e1e1e" stroke-width="1.4"/>
<rect x="1064.01" y="1476.9" width="54.51" height="219.6" fill="#daa520" stroke="#1e1e1e" stroke-width="1.4"/>
<rect x="1123.78" y="1485.3" width="54.51" height="211.2" fill="#ffa500" stroke="#1e1e1e" stroke-width="1.4"/>
<rect x="1243.32" y="1462.2" width="54.51" height="234.3" fill="#98f598" stroke="#1e1e1e" stroke-width="1.4"/>
<rect x="1303.09" y="1480" width="54.51" height="216.5" fill="#3cb371" stroke="#1e1e1e" stroke-width="1.4"/>
<rect x="1362.86" y="1476.9" width="54.51" height="219.6" fill="#228b22" stroke="#1e1e1e" stroke-width="1.4"/>
<path d="M911.96 1450.6V1493.1M906.86 1450.6H917.06M906.86 1493.1H917.06" stroke="#111" stroke-width="2.1" fill="none"/>
<path d="M971.73 1441.9V1479.7M966.63 1441.9H976.83M966.63 1479.7H976.83" stroke="#111" stroke-width="2.1" fill="none"/>
<path d="M1031.5 1455.3V1481.9M1026.4 1455.3H1036.6M1026.4 1481.9H1036.6" stroke="#111" stroke-width="2.1" fill="none"/>
<path d="M1091.27 1456.9V1497.5M1086.17 1456.9H1096.37M1086.17 1497.5H1096.37" stroke="#111" stroke-width="2.1" fill="none"/>
<path d="M1151.04 1459.4V1511.6M1145.94 1459.4H1156.14M1145.94 1511.6H1156.14" stroke="#111" stroke-width="2.1" fill="none"/>
<path d="M1270.58 1436.25V1488.1M1265.48 1436.25H1275.68M1265.48 1488.1H1275.68" stroke="#111" stroke-width="2.1" fill="none"/>
<path d="M1330.35 1461.6V1497.2M1325.25 1461.6H1335.45M1325.25 1497.2H1335.45" stroke="#111" stroke-width="2.1" fill="none"/>
<path d="M1390.12 1460.9V1492.8M1385.02 1460.9H1395.22M1385.02 1492.8H1395.22" stroke="#111" stroke-width="2.1" fill="none"/>
<text x="912.1" y="1443.75" text-anchor="middle" font-family="'Liberation Serif', 'Times New Roman', serif" font-weight="bold" font-size="24" fill="#111">ab</text>
<text x="972.25" y="1436.9" text-anchor="middle" font-family="'Liberation Serif', 'Times New Roman', serif" font-weight="bold" font-size="24" fill="#111">a</text>
<text x="1032.3" y="1447.8" text-anchor="middle" font-family="'Liberation Serif', 'Times New Roman', serif" font-weight="bold" font-size="24" fill="#111">ab</text>
<text x="1091" y="1451.6" text-anchor="middle" font-family="'Liberation Serif', 'Times New Roman', serif" font-weight="bold" font-size="24" fill="#111">ab</text>
<text x="1152" y="1451.6" text-anchor="middle" font-family="'Liberation Serif', 'Times New Roman', serif" font-weight="bold" font-size="24" fill="#111">b</text>
<text x="1269.9" y="1428.75" text-anchor="middle" font-family="'Liberation Serif', 'Times New Roman', serif" font-weight="bold" font-size="24" fill="#111">a</text>
<text x="1331" y="1451.6" text-anchor="middle" font-family="'Liberation Serif', 'Times New Roman', serif" font-weight="bold" font-size="24" fill="#111">b</text>
<text x="1389.75" y="1451.6" text-anchor="middle" font-family="'Liberation Serif', 'Times New Roman', serif" font-weight="bold" font-size="24" fill="#111">b</text>
<line x1="856.8" y1="1314.5" x2="856.8" y2="1696.5" stroke="#c8c8c8" stroke-width="1.5"/>
<line x1="856.1" y1="1696.5" x2="1444.5" y2="1696.5" stroke="#2a2a2a" stroke-width="1.6"/>
<line x1="853.3" y1="1696.5" x2="856.8" y2="1696.5" stroke="#2a2a2a" stroke-width="1.3"/>
<text x="849.7" y="1703.4" text-anchor="end" font-family="'Liberation Serif', 'Times New Roman', serif" font-weight="bold" font-size="20.5" fill="#111">0.0</text>
<line x1="853.3" y1="1569.33" x2="856.8" y2="1569.33" stroke="#2a2a2a" stroke-width="1.3"/>
<text x="849.7" y="1576.23" text-anchor="end" font-family="'Liberation Serif', 'Times New Roman', serif" font-weight="bold" font-size="20.5" fill="#111">2.0</text>
<line x1="853.3" y1="1442.17" x2="856.8" y2="1442.17" stroke="#2a2a2a" stroke-width="1.3"/>
<text x="849.7" y="1449.07" text-anchor="end" font-family="'Liberation Serif', 'Times New Roman', serif" font-weight="bold" font-size="20.5" fill="#111">4.0</text>
<line x1="853.3" y1="1315" x2="856.8" y2="1315" stroke="#2a2a2a" stroke-width="1.3"/>
<text x="849.7" y="1321.9" text-anchor="end" font-family="'Liberation Serif', 'Times New Roman', serif" font-weight="bold" font-size="20.5" fill="#111">6.0</text>
<line x1="911.96" y1="1696.5" x2="911.96" y2="1700" stroke="#2a2a2a" stroke-width="1.3"/>
<line x1="971.73" y1="1696.5" x2="971.73" y2="1700" stroke="#2a2a2a" stroke-width="1.3"/>
<line x1="1031.5" y1="1696.5" x2="1031.5" y2="1700" stroke="#2a2a2a" stroke-width="1.3"/>
<line x1="1091.27" y1="1696.5" x2="1091.27" y2="1700" stroke="#2a2a2a" stroke-width="1.3"/>
<line x1="1151.04" y1="1696.5" x2="1151.04" y2="1700" stroke="#2a2a2a" stroke-width="1.3"/>
<line x1="1210.81" y1="1696.5" x2="1210.81" y2="1700" stroke="#777" stroke-width="1.3"/>
<line x1="1270.58" y1="1696.5" x2="1270.58" y2="1700" stroke="#2a2a2a" stroke-width="1.3"/>
<line x1="1330.35" y1="1696.5" x2="1330.35" y2="1700" stroke="#2a2a2a" stroke-width="1.3"/>
<line x1="1390.12" y1="1696.5" x2="1390.12" y2="1700" stroke="#2a2a2a" stroke-width="1.3"/>
<text transform="translate(915.56,1703.8) rotate(-90)" text-anchor="end" font-family="'Liberation Serif', 'Times New Roman', serif" font-weight="bold" font-size="18.0" fill="#111">Fall 2022</text>
<text transform="translate(975.33,1703.8) rotate(-90)" text-anchor="end" font-family="'Liberation Serif', 'Times New Roman', serif" font-weight="bold" font-size="18.0" fill="#111">Spring 2023</text>
<text transform="translate(1035.1,1703.8) rotate(-90)" text-anchor="end" font-family="'Liberation Serif', 'Times New Roman', serif" font-weight="bold" font-size="18.0" fill="#111">Summer 2023</text>
<text transform="translate(1094.87,1703.8) rotate(-90)" text-anchor="end" font-family="'Liberation Serif', 'Times New Roman', serif" font-weight="bold" font-size="18.0" fill="#111">Fall 2023</text>
<text transform="translate(1154.64,1703.8) rotate(-90)" text-anchor="end" font-family="'Liberation Serif', 'Times New Roman', serif" font-weight="bold" font-size="18.0" fill="#111">Spring 2024</text>
<text transform="translate(1274.18,1703.8) rotate(-90)" text-anchor="end" font-family="'Liberation Serif', 'Times New Roman', serif" font-weight="bold" font-size="18.0" fill="#111">3.75</text>
<text transform="translate(1333.95,1703.8) rotate(-90)" text-anchor="end" font-family="'Liberation Serif', 'Times New Roman', serif" font-weight="bold" font-size="18.0" fill="#111">7.50</text>
<text transform="translate(1393.72,1703.8) rotate(-90)" text-anchor="end" font-family="'Liberation Serif', 'Times New Roman', serif" font-weight="bold" font-size="18.0" fill="#111">11.25</text>
<text x="1330.35" y="1785.8" text-anchor="middle" font-family="'Liberation Serif', 'Times New Roman', serif" font-weight="bold" font-size="21.2" fill="#111">Si rate</text>
<text x="1330.35" y="1807.8" text-anchor="middle" font-family="'Liberation Serif', 'Times New Roman', serif" font-weight="bold" font-size="21.2" fill="#111">(mg per plant)</text>
<text x="1031.5" y="1862.5" text-anchor="middle" font-family="'Liberation Serif', 'Times New Roman', serif" font-weight="bold" font-size="20.3" fill="#111">Season</text>
<text x="863.5" y="1322.4" font-family="'Liberation Serif', 'Times New Roman', serif" font-weight="bold" font-size="20.3" fill="#111">Se<tspan font-weight="normal" font-size="19.89" dx="0.8" dy="1.4" letter-spacing="-0.3">**</tspan></text>
<text x="865" y="1345.2" font-family="'Liberation Serif', 'Times New Roman', serif" font-weight="bold" font-size="20.3" fill="#111">Si<tspan font-weight="normal" font-size="19.89" dx="0.8" dy="1.4" letter-spacing="-0.3">**</tspan></text>
<text x="865" y="1368.2" font-family="'Liberation Serif', 'Times New Roman', serif" font-weight="bold" font-size="20.3" fill="#111">SexSi<tspan font-weight="normal" font-style="italic" font-size="16.85" dy="-7.4" dx="1.2" letter-spacing="0.4">ns</tspan></text>
<text transform="translate(784.5,1505) rotate(-90)" text-anchor="middle" font-family="'Liberation Serif', 'Times New Roman', serif" font-weight="bold" font-size="23.2" fill="#111">Magnesium concentration</text>
<text transform="translate(814.1,1505) rotate(-90)" text-anchor="middle" font-family="'Liberation Serif', 'Times New Roman', serif" font-weight="bold" font-size="23.2" fill="#111"><tspan font-weight="normal">(</tspan>g kg<tspan font-weight="normal" font-size="19.72" dy="-8.5" dx="1.5">−</tspan><tspan font-weight="normal" font-size="17.63" dx="0.5">1</tspan><tspan font-weight="normal" dy="8.5" dx="1.5">)</tspan></text>
<text x="1467.3" y="1276.4" font-family="'Liberation Serif', 'Times New Roman', serif" font-weight="bold" font-size="24" fill="#111">i)</text>
<text x="1819.6" y="1276.1" font-family="'Liberation Serif', 'Times New Roman', serif" font-weight="bold" font-style="italic" font-size="25.7" fill="#111">High P</text>
<rect x="1610.35" y="1451.9" width="54.57" height="244.6" fill="#ffffff" stroke="#1e1e1e" stroke-width="1.4"/>
<rect x="1670.19" y="1462.2" width="54.57" height="234.3" fill="#add8e6" stroke="#1e1e1e" stroke-width="1.4"/>
<rect x="1730.03" y="1456.25" width="54.57" height="240.25" fill="#000080" stroke="#1e1e1e" stroke-width="1.4"/>
<rect x="1789.87" y="1449" width="54.57" height="247.5" fill="#daa520" stroke="#1e1e1e" stroke-width="1.4"/>
<rect x="1849.71" y="1456.25" width="54.57" height="240.25" fill="#ffa500" stroke="#1e1e1e" stroke-width="1.4"/>
<rect x="1969.39" y="1456.6" width="54.57" height="239.9" fill="#98f598" stroke="#1e1e1e" stroke-width="1.4"/>
<rect x="2029.23" y="1457.8" width="54.57" height="238.7" fill="#3cb371" stroke="#1e1e1e" stroke-width="1.4"/>
<rect x="2089.07" y="1451.9" width="54.57" height="244.6" fill="#228b22" stroke="#1e1e1e" stroke-width="1.4"/>
<path d="M1637.64 1438.1V1466.25M1632.54 1438.1H1642.74M1632.54 1466.25H1642.74" stroke="#111" stroke-width="2.1" fill="none"/>
<path d="M1697.48 1442.8V1482.8M1692.38 1442.8H1702.58M1692.38 1482.8H1702.58" stroke="#111" stroke-width="2.1" fill="none"/>
<path d="M1757.32 1434.7V1475.9M1752.22 1434.7H1762.42M1752.22 1475.9H1762.42" stroke="#111" stroke-width="2.1" fill="none"/>
<path d="M1817.16 1432.5V1465M1812.06 1432.5H1822.26M1812.06 1465H1822.26" stroke="#111" stroke-width="2.1" fill="none"/>
<path d="M1877 1436.25V1475.3M1871.9 1436.25H1882.1M1871.9 1475.3H1882.1" stroke="#111" stroke-width="2.1" fill="none"/>
<path d="M1996.68 1437.5V1475.3M1991.58 1437.5H2001.78M1991.58 1475.3H2001.78" stroke="#111" stroke-width="2.1" fill="none"/>
<path d="M2056.52 1440.3V1474.4M2051.42 1440.3H2061.62M2051.42 1474.4H2061.62" stroke="#111" stroke-width="2.1" fill="none"/>
<path d="M2116.36 1431.9V1470.9M2111.26 1431.9H2121.46M2111.26 1470.9H2121.46" stroke="#111" stroke-width="2.1" fill="none"/>
<line x1="1583.5" y1="1314.5" x2="1583.5" y2="1696.5" stroke="#3a3a3a" stroke-width="1.5"/>
<line x1="1582.8" y1="1696.5" x2="2171" y2="1696.5" stroke="#2a2a2a" stroke-width="1.6"/>
<line x1="1580" y1="1696.5" x2="1583.5" y2="1696.5" stroke="#2a2a2a" stroke-width="1.3"/>
<text x="1576.2" y="1703.4" text-anchor="end" font-family="'Liberation Serif', 'Times New Roman', serif" font-weight="bold" font-size="20.5" fill="#111">0.0</text>
<line x1="1580" y1="1569.33" x2="1583.5" y2="1569.33" stroke="#2a2a2a" stroke-width="1.3"/>
<text x="1576.2" y="1576.23" text-anchor="end" font-family="'Liberation Serif', 'Times New Roman', serif" font-weight="bold" font-size="20.5" fill="#111">0.15</text>
<line x1="1580" y1="1442.17" x2="1583.5" y2="1442.17" stroke="#2a2a2a" stroke-width="1.3"/>
<text x="1576.2" y="1449.07" text-anchor="end" font-family="'Liberation Serif', 'Times New Roman', serif" font-weight="bold" font-size="20.5" fill="#111">0.30</text>
<line x1="1580" y1="1315" x2="1583.5" y2="1315" stroke="#2a2a2a" stroke-width="1.3"/>
<text x="1576.2" y="1321.9" text-anchor="end" font-family="'Liberation Serif', 'Times New Roman', serif" font-weight="bold" font-size="20.5" fill="#111">0.45</text>
<line x1="1637.64" y1="1696.5" x2="1637.64" y2="1700" stroke="#2a2a2a" stroke-width="1.3"/>
<line x1="1697.48" y1="1696.5" x2="1697.48" y2="1700" stroke="#2a2a2a" stroke-width="1.3"/>
<line x1="1757.32" y1="1696.5" x2="1757.32" y2="1700" stroke="#2a2a2a" stroke-width="1.3"/>
<line x1="1817.16" y1="1696.5" x2="1817.16" y2="1700" stroke="#2a2a2a" stroke-width="1.3"/>
<line x1="1877" y1="1696.5" x2="1877" y2="1700" stroke="#2a2a2a" stroke-width="1.3"/>
<line x1="1936.84" y1="1696.5" x2="1936.84" y2="1700" stroke="#777" stroke-width="1.3"/>
<line x1="1996.68" y1="1696.5" x2="1996.68" y2="1700" stroke="#2a2a2a" stroke-width="1.3"/>
<line x1="2056.52" y1="1696.5" x2="2056.52" y2="1700" stroke="#2a2a2a" stroke-width="1.3"/>
<line x1="2116.36" y1="1696.5" x2="2116.36" y2="1700" stroke="#2a2a2a" stroke-width="1.3"/>
<text transform="translate(1641.24,1703.8) rotate(-90)" text-anchor="end" font-family="'Liberation Serif', 'Times New Roman', serif" font-weight="bold" font-size="18.0" fill="#111">Fall 2022</text>
<text transform="translate(1701.08,1703.8) rotate(-90)" text-anchor="end" font-family="'Liberation Serif', 'Times New Roman', serif" font-weight="bold" font-size="18.0" fill="#111">Spring 2023</text>
<text transform="translate(1760.92,1703.8) rotate(-90)" text-anchor="end" font-family="'Liberation Serif', 'Times New Roman', serif" font-weight="bold" font-size="18.0" fill="#111">Summer 2023</text>
<text transform="translate(1820.76,1703.8) rotate(-90)" text-anchor="end" font-family="'Liberation Serif', 'Times New Roman', serif" font-weight="bold" font-size="18.0" fill="#111">Fall 2023</text>
<text transform="translate(1880.6,1703.8) rotate(-90)" text-anchor="end" font-family="'Liberation Serif', 'Times New Roman', serif" font-weight="bold" font-size="18.0" fill="#111">Spring 2024</text>
<text transform="translate(2000.28,1703.8) rotate(-90)" text-anchor="end" font-family="'Liberation Serif', 'Times New Roman', serif" font-weight="bold" font-size="18.0" fill="#111">3.75</text>
<text transform="translate(2060.12,1703.8) rotate(-90)" text-anchor="end" font-family="'Liberation Serif', 'Times New Roman', serif" font-weight="bold" font-size="18.0" fill="#111">7.50</text>
<text transform="translate(2119.96,1703.8) rotate(-90)" text-anchor="end" font-family="'Liberation Serif', 'Times New Roman', serif" font-weight="bold" font-size="18.0" fill="#111">11.25</text>
<text x="2056.52" y="1785.8" text-anchor="middle" font-family="'Liberation Serif', 'Times New Roman', serif" font-weight="bold" font-size="21.2" fill="#111">Si rate</text>
<text x="2056.52" y="1807.8" text-anchor="middle" font-family="'Liberation Serif', 'Times New Roman', serif" font-weight="bold" font-size="21.2" fill="#111">(mg per plant)</text>
<text x="1757.32" y="1862.5" text-anchor="middle" font-family="'Liberation Serif', 'Times New Roman', serif" font-weight="bold" font-size="20.3" fill="#111">Season</text>
<text x="1590" y="1322.4" font-family="'Liberation Serif', 'Times New Roman', serif" font-weight="bold" font-size="20.3" fill="#111">Se<tspan font-weight="normal" font-style="italic" font-size="16.85" dy="-7.4" dx="1.2" letter-spacing="0.4">ns</tspan></text>
<text x="1591.5" y="1345.2" font-family="'Liberation Serif', 'Times New Roman', serif" font-weight="bold" font-size="20.3" fill="#111">Si<tspan font-weight="normal" font-style="italic" font-size="16.85" dy="-7.4" dx="1.2" letter-spacing="0.4">ns</tspan></text>
<text x="1591.5" y="1368.2" font-family="'Liberation Serif', 'Times New Roman', serif" font-weight="bold" font-size="20.3" fill="#111">SexSi<tspan font-weight="normal" font-style="italic" font-size="16.85" dy="-7.4" dx="1.2" letter-spacing="0.4">ns</tspan></text>
<text transform="translate(1501.2,1505) rotate(-90)" text-anchor="middle" font-family="'Liberation Serif', 'Times New Roman', serif" font-weight="bold" font-size="23.2" fill="#111">Sulfur concentration</text>
<text transform="translate(1531.5,1505) rotate(-90)" text-anchor="middle" font-family="'Liberation Serif', 'Times New Roman', serif" font-weight="bold" font-size="23.2" fill="#111"><tspan font-weight="normal">(</tspan>g kg<tspan font-weight="normal" font-size="19.72" dy="-8.5" dx="1.5">−</tspan><tspan font-weight="normal" font-size="17.63" dx="0.5">1</tspan><tspan font-weight="normal" dy="8.5" dx="1.5">)</tspan></text>
<text x="14.3" y="1900.4" font-family="'Liberation Serif', 'Times New Roman', serif" font-weight="bold" font-size="24" fill="#111">j)</text>
<text x="366.6" y="1900.1" font-family="'Liberation Serif', 'Times New Roman', serif" font-weight="bold" font-style="italic" font-size="25.7" fill="#111">Low P</text>
<rect x="158" y="2070.3" width="54.63" height="250.2" fill="#ffffff" stroke="#1e1e1e" stroke-width="1.4"/>
<rect x="217.9" y="2092.8" width="54.63" height="227.7" fill="#add8e6" stroke="#1e1e1e" stroke-width="1.4"/>
<rect x="277.8" y="2079.4" width="54.63" height="241.1" fill="#000080" stroke="#1e1e1e" stroke-width="1.4"/>
<rect x="337.7" y="2076.6" width="54.63" height="243.9" fill="#daa520" stroke="#1e1e1e" stroke-width="1.4"/>
<rect x="397.6" y="2085" width="54.63" height="235.5" fill="#ffa500" stroke="#1e1e1e" stroke-width="1.4"/>
<rect x="517.4" y="2086.6" width="54.63" height="233.9" fill="#98f598" stroke="#1e1e1e" stroke-width="1.4"/>
<rect x="577.3" y="2075.3" width="54.63" height="245.2" fill="#3cb371" stroke="#1e1e1e" stroke-width="1.4"/>
<rect x="637.2" y="2081.25" width="54.63" height="239.25" fill="#228b22" stroke="#1e1e1e" stroke-width="1.4"/>
<path d="M185.31 2055.6V2086.6M180.21 2055.6H190.41M180.21 2086.6H190.41" stroke="#111" stroke-width="2.1" fill="none"/>
<path d="M245.21 2075.3V2109.7M240.11 2075.3H250.31M240.11 2109.7H250.31" stroke="#111" stroke-width="2.1" fill="none"/>
<path d="M305.11 2065V2094.4M300.01 2065H310.21M300.01 2094.4H310.21" stroke="#111" stroke-width="2.1" fill="none"/>
<path d="M365.01 2060.9V2092.5M359.91 2060.9H370.11M359.91 2092.5H370.11" stroke="#111" stroke-width="2.1" fill="none"/>
<path d="M424.91 2068.4V2100.9M419.81 2068.4H430.01M419.81 2100.9H430.01" stroke="#111" stroke-width="2.1" fill="none"/>
<path d="M544.71 2070.9V2103.4M539.61 2070.9H549.81M539.61 2103.4H549.81" stroke="#111" stroke-width="2.1" fill="none"/>
<path d="M604.61 2057.8V2092.5M599.51 2057.8H609.71M599.51 2092.5H609.71" stroke="#111" stroke-width="2.1" fill="none"/>
<path d="M664.51 2065V2095.9M659.41 2065H669.61M659.41 2095.9H669.61" stroke="#111" stroke-width="2.1" fill="none"/>
<text x="184.5" y="2049" text-anchor="middle" font-family="'Liberation Serif', 'Times New Roman', serif" font-weight="bold" font-size="24" fill="#111">a</text>
<text x="247" y="2067.5" text-anchor="middle" font-family="'Liberation Serif', 'Times New Roman', serif" font-weight="bold" font-size="24" fill="#111">b</text>
<text x="306.4" y="2060" text-anchor="middle" font-family="'Liberation Serif', 'Times New Roman', serif" font-weight="bold" font-size="24" fill="#111">ab</text>
<text x="363.9" y="2056.9" text-anchor="middle" font-family="'Liberation Serif', 'Times New Roman', serif" font-weight="bold" font-size="24" fill="#111">a</text>
<text x="426.4" y="2063.75" text-anchor="middle" font-family="'Liberation Serif', 'Times New Roman', serif" font-weight="bold" font-size="24" fill="#111">ab</text>
<text x="543.9" y="2063.75" text-anchor="middle" font-family="'Liberation Serif', 'Times New Roman', serif" font-weight="bold" font-size="24" fill="#111">b</text>
<text x="604.5" y="2052.2" text-anchor="middle" font-family="'Liberation Serif', 'Times New Roman', serif" font-weight="bold" font-size="24" fill="#111">a</text>
<text x="664.9" y="2060" text-anchor="middle" font-family="'Liberation Serif', 'Times New Roman', serif" font-weight="bold" font-size="24" fill="#111">ab</text>
<line x1="130.5" y1="1938.5" x2="130.5" y2="2320.5" stroke="#2a2a2a" stroke-width="1.5"/>
<line x1="129.8" y1="2320.5" x2="718" y2="2320.5" stroke="#2a2a2a" stroke-width="1.6"/>
<line x1="127" y1="2320.5" x2="130.5" y2="2320.5" stroke="#2a2a2a" stroke-width="1.3"/>
<text x="123.2" y="2327.4" text-anchor="end" font-family="'Liberation Serif', 'Times New Roman', serif" font-weight="bold" font-size="20.5" fill="#111">0.0</text>
<line x1="127" y1="2193.33" x2="130.5" y2="2193.33" stroke="#2a2a2a" stroke-width="1.3"/>
<text x="123.2" y="2200.23" text-anchor="end" font-family="'Liberation Serif', 'Times New Roman', serif" font-weight="bold" font-size="20.5" fill="#111">0.15</text>
<line x1="127" y1="2066.17" x2="130.5" y2="2066.17" stroke="#2a2a2a" stroke-width="1.3"/>
<text x="123.2" y="2073.07" text-anchor="end" font-family="'Liberation Serif', 'Times New Roman', serif" font-weight="bold" font-size="20.5" fill="#111">0.30</text>
<line x1="127" y1="1939" x2="130.5" y2="1939" stroke="#2a2a2a" stroke-width="1.3"/>
<text x="123.2" y="1945.9" text-anchor="end" font-family="'Liberation Serif', 'Times New Roman', serif" font-weight="bold" font-size="20.5" fill="#111">0.45</text>
<line x1="185.31" y1="2320.5" x2="185.31" y2="2324" stroke="#2a2a2a" stroke-width="1.3"/>
<line x1="245.21" y1="2320.5" x2="245.21" y2="2324" stroke="#2a2a2a" stroke-width="1.3"/>
<line x1="305.11" y1="2320.5" x2="305.11" y2="2324" stroke="#2a2a2a" stroke-width="1.3"/>
<line x1="365.01" y1="2320.5" x2="365.01" y2="2324" stroke="#2a2a2a" stroke-width="1.3"/>
<line x1="424.91" y1="2320.5" x2="424.91" y2="2324" stroke="#2a2a2a" stroke-width="1.3"/>
<line x1="484.81" y1="2320.5" x2="484.81" y2="2324" stroke="#777" stroke-width="1.3"/>
<line x1="544.71" y1="2320.5" x2="544.71" y2="2324" stroke="#2a2a2a" stroke-width="1.3"/>
<line x1="604.61" y1="2320.5" x2="604.61" y2="2324" stroke="#2a2a2a" stroke-width="1.3"/>
<line x1="664.51" y1="2320.5" x2="664.51" y2="2324" stroke="#2a2a2a" stroke-width="1.3"/>
<text transform="translate(188.91,2327.8) rotate(-90)" text-anchor="end" font-family="'Liberation Serif', 'Times New Roman', serif" font-weight="bold" font-size="18.0" fill="#111">Fall 2022</text>
<text transform="translate(248.81,2327.8) rotate(-90)" text-anchor="end" font-family="'Liberation Serif', 'Times New Roman', serif" font-weight="bold" font-size="18.0" fill="#111">Spring 2023</text>
<text transform="translate(308.71,2327.8) rotate(-90)" text-anchor="end" font-family="'Liberation Serif', 'Times New Roman', serif" font-weight="bold" font-size="18.0" fill="#111">Summer 2023</text>
<text transform="translate(368.61,2327.8) rotate(-90)" text-anchor="end" font-family="'Liberation Serif', 'Times New Roman', serif" font-weight="bold" font-size="18.0" fill="#111">Fall 2023</text>
<text transform="translate(428.51,2327.8) rotate(-90)" text-anchor="end" font-family="'Liberation Serif', 'Times New Roman', serif" font-weight="bold" font-size="18.0" fill="#111">Spring 2024</text>
<text transform="translate(548.31,2327.8) rotate(-90)" text-anchor="end" font-family="'Liberation Serif', 'Times New Roman', serif" font-weight="bold" font-size="18.0" fill="#111">3.75</text>
<text transform="translate(608.21,2327.8) rotate(-90)" text-anchor="end" font-family="'Liberation Serif', 'Times New Roman', serif" font-weight="bold" font-size="18.0" fill="#111">7.50</text>
<text transform="translate(668.11,2327.8) rotate(-90)" text-anchor="end" font-family="'Liberation Serif', 'Times New Roman', serif" font-weight="bold" font-size="18.0" fill="#111">11.25</text>
<text x="604.61" y="2409.8" text-anchor="middle" font-family="'Liberation Serif', 'Times New Roman', serif" font-weight="bold" font-size="21.2" fill="#111">Si rate</text>
<text x="604.61" y="2431.8" text-anchor="middle" font-family="'Liberation Serif', 'Times New Roman', serif" font-weight="bold" font-size="21.2" fill="#111">(mg per plant)</text>
<text x="305.11" y="2486.5" text-anchor="middle" font-family="'Liberation Serif', 'Times New Roman', serif" font-weight="bold" font-size="20.3" fill="#111">Season</text>
<text x="137.3" y="1946.4" font-family="'Liberation Serif', 'Times New Roman', serif" font-weight="bold" font-size="20.3" fill="#111">Se<tspan font-weight="normal" font-size="19.89" dx="0.8" dy="1.4" letter-spacing="-0.3">**</tspan></text>
<text x="141.3" y="1969.2" font-family="'Liberation Serif', 'Times New Roman', serif" font-weight="bold" font-size="20.3" fill="#111">Si<tspan font-weight="normal" font-size="19.89" dx="0.8" dy="1.4" letter-spacing="-0.3">*</tspan></text>
<text x="138.8" y="1992.2" font-family="'Liberation Serif', 'Times New Roman', serif" font-weight="bold" font-size="20.3" fill="#111">SexSi<tspan font-weight="normal" font-style="italic" font-size="16.85" dy="-7.4" dx="1.2" letter-spacing="0.4">ns</tspan></text>
<text transform="translate(48.5,2129) rotate(-90)" text-anchor="middle" font-family="'Liberation Serif', 'Times New Roman', serif" font-weight="bold" font-size="23.2" fill="#111">Sulfur concentration</text>
<text transform="translate(78.8,2129) rotate(-90)" text-anchor="middle" font-family="'Liberation Serif', 'Times New Roman', serif" font-weight="bold" font-size="23.2" fill="#111"><tspan font-weight="normal">(</tspan>g kg<tspan font-weight="normal" font-size="19.72" dy="-8.5" dx="1.5">−</tspan><tspan font-weight="normal" font-size="17.63" dx="0.5">1</tspan><tspan font-weight="normal" dy="8.5" dx="1.5">)</tspan></text>
<text x="11.3" y="666.2" font-family="'Liberation Serif', 'Times New Roman', serif" font-weight="bold" font-size="24" fill="#111">d)</text>
<text x="363.3" y="665.9" font-family="'Liberation Serif', 'Times New Roman', serif" font-weight="bold" font-style="italic" font-size="25.7" fill="#111">Low P</text>
<rect x="171.5" y="973.25" width="28.8" height="204.75" fill="#ffffff" stroke="#1e1e1e" stroke-width="1.3"/>
<rect x="200.3" y="925.25" width="28.8" height="252.75" fill="#add8e6" stroke="#1e1e1e" stroke-width="1.3"/>
<rect x="229.1" y="909.5" width="28.8" height="268.5" fill="#000080" stroke="#1e1e1e" stroke-width="1.3"/>
<rect x="257.9" y="935.25" width="28.8" height="242.75" fill="#90ee90" stroke="#1e1e1e" stroke-width="1.3"/>
<rect x="286.7" y="975" width="28.8" height="203" fill="#ffa500" stroke="#1e1e1e" stroke-width="1.3"/>
<path d="M185.9 963.25V985.75M182.2 963.25H189.6M182.2 985.75H189.6" stroke="#1a1a1a" stroke-width="1.25" fill="none"/>
<path d="M214.7 918.25V932M211 918.25H218.4M211 932H218.4" stroke="#1a1a1a" stroke-width="1.25" fill="none"/>
<path d="M243.5 907V911.5M239.8 907H247.2M239.8 911.5H247.2" stroke="#1a1a1a" stroke-width="1.25" fill="none"/>
<path d="M272.3 925.25V944.5M268.6 925.25H276M268.6 944.5H276" stroke="#1a1a1a" stroke-width="1.25" fill="none"/>
<path d="M301.1 963.25V988.75M297.4 963.25H304.8M297.4 988.75H304.8" stroke="#1a1a1a" stroke-width="1.25" fill="none"/>
<text x="188" y="955" text-anchor="middle" font-family="'Liberation Serif', 'Times New Roman', serif" font-weight="bold" font-size="19.5" fill="#111">bA</text>
<text x="216.5" y="912.75" text-anchor="middle" font-family="'Liberation Serif', 'Times New Roman', serif" font-weight="bold" font-size="19.5" fill="#111">aA</text>
<text x="245.9" y="898.25" text-anchor="middle" font-family="'Liberation Serif', 'Times New Roman', serif" font-weight="bold" font-size="19.5" fill="#111">aA</text>
<text x="279.75" y="917" text-anchor="middle" font-family="'Liberation Serif', 'Times New Roman', serif" font-weight="bold" font-size="19.5" fill="#111">aAB</text>
<text x="300" y="959.5" text-anchor="middle" font-family="'Liberation Serif', 'Times New Roman', serif" font-weight="bold" font-size="19.5" fill="#111">bA</text>
<rect x="350" y="983.75" width="28.8" height="194.25" fill="#ffffff" stroke="#1e1e1e" stroke-width="1.3"/>
<rect x="378.8" y="932.75" width="28.8" height="245.25" fill="#add8e6" stroke="#1e1e1e" stroke-width="1.3"/>
<rect x="407.6" y="948.5" width="28.8" height="229.5" fill="#000080" stroke="#1e1e1e" stroke-width="1.3"/>
<rect x="436.4" y="957.75" width="28.8" height="220.25" fill="#90ee90" stroke="#1e1e1e" stroke-width="1.3"/>
<rect x="465.2" y="979" width="28.8" height="199" fill="#ffa500" stroke="#1e1e1e" stroke-width="1.3"/>
<path d="M364.4 976.5V990.75M360.7 976.5H368.1M360.7 990.75H368.1" stroke="#1a1a1a" stroke-width="1.25" fill="none"/>
<path d="M393.2 931V934.5M389.5 931H396.9M389.5 934.5H396.9" stroke="#1a1a1a" stroke-width="1.25" fill="none"/>
<path d="M422 944.5V951.5M418.3 944.5H425.7M418.3 951.5H425.7" stroke="#1a1a1a" stroke-width="1.25" fill="none"/>
<path d="M450.8 951.5V961.5M447.1 951.5H454.5M447.1 961.5H454.5" stroke="#1a1a1a" stroke-width="1.25" fill="none"/>
<path d="M479.6 977.5V980M475.9 977.5H483.3M475.9 980H483.3" stroke="#1a1a1a" stroke-width="1.25" fill="none"/>
<text x="364.4" y="972.75" text-anchor="middle" font-family="'Liberation Serif', 'Times New Roman', serif" font-weight="bold" font-size="19.5" fill="#111">bA</text>
<text x="392.75" y="926.5" text-anchor="middle" font-family="'Liberation Serif', 'Times New Roman', serif" font-weight="bold" font-size="19.5" fill="#111">aA</text>
<text x="422" y="940.75" text-anchor="middle" font-family="'Liberation Serif', 'Times New Roman', serif" font-weight="bold" font-size="19.5" fill="#111">aB</text>
<text x="457" y="944.5" text-anchor="middle" font-family="'Liberation Serif', 'Times New Roman', serif" font-weight="bold" font-size="19.5" fill="#111">abB</text>
<text x="481.5" y="972" text-anchor="middle" font-family="'Liberation Serif', 'Times New Roman', serif" font-weight="bold" font-size="19.5" fill="#111">bA</text>
<rect x="527.5" y="981" width="28.8" height="197" fill="#ffffff" stroke="#1e1e1e" stroke-width="1.3"/>
<rect x="556.3" y="942.75" width="28.8" height="235.25" fill="#add8e6" stroke="#1e1e1e" stroke-width="1.3"/>
<rect x="585.1" y="944" width="28.8" height="234" fill="#000080" stroke="#1e1e1e" stroke-width="1.3"/>
<rect x="613.9" y="925.25" width="28.8" height="252.75" fill="#90ee90" stroke="#1e1e1e" stroke-width="1.3"/>
<rect x="642.7" y="997" width="28.8" height="181" fill="#ffa500" stroke="#1e1e1e" stroke-width="1.3"/>
<path d="M541.9 970.25V992.75M538.2 970.25H545.6M538.2 992.75H545.6" stroke="#1a1a1a" stroke-width="1.25" fill="none"/>
<path d="M570.7 940V945.75M567 940H574.4M567 945.75H574.4" stroke="#1a1a1a" stroke-width="1.25" fill="none"/>
<path d="M599.5 941.5V946.5M595.8 941.5H603.2M595.8 946.5H603.2" stroke="#1a1a1a" stroke-width="1.25" fill="none"/>
<path d="M628.3 910.75V939M624.6 910.75H632M624.6 939H632" stroke="#1a1a1a" stroke-width="1.25" fill="none"/>
<path d="M657.1 994.5V1001.25M653.4 994.5H660.8M653.4 1001.25H660.8" stroke="#1a1a1a" stroke-width="1.25" fill="none"/>
<text x="540" y="963.75" text-anchor="middle" font-family="'Liberation Serif', 'Times New Roman', serif" font-weight="bold" font-size="19.5" fill="#111">bA</text>
<text x="574.6" y="935.75" text-anchor="middle" font-family="'Liberation Serif', 'Times New Roman', serif" font-weight="bold" font-size="19.5" fill="#111">aA</text>
<text x="600.9" y="935.75" text-anchor="middle" font-family="'Liberation Serif', 'Times New Roman', serif" font-weight="bold" font-size="19.5" fill="#111">aB</text>
<text x="627.75" y="907.75" text-anchor="middle" font-family="'Liberation Serif', 'Times New Roman', serif" font-weight="bold" font-size="19.5" fill="#111">aA</text>
<text x="657.75" y="991.25" text-anchor="middle" font-family="'Liberation Serif', 'Times New Roman', serif" font-weight="bold" font-size="19.5" fill="#111">bA</text>
<line x1="128" y1="711" x2="128" y2="1178" stroke="#222" stroke-width="1.5"/>
<line x1="126.5" y1="1178" x2="715" y2="1178" stroke="#222" stroke-width="1.6"/>
<line x1="124.5" y1="1178" x2="128" y2="1178" stroke="#222" stroke-width="1.3"/>
<text x="120" y="1184.8" text-anchor="end" font-family="'Liberation Serif', 'Times New Roman', serif" font-weight="bold" font-size="20" fill="#111">0.0</text>
<line x1="124.5" y1="1022.5" x2="128" y2="1022.5" stroke="#222" stroke-width="1.3"/>
<text x="120" y="1029.3" text-anchor="end" font-family="'Liberation Serif', 'Times New Roman', serif" font-weight="bold" font-size="20" fill="#111">1.00</text>
<line x1="124.5" y1="867" x2="128" y2="867" stroke="#222" stroke-width="1.3"/>
<text x="120" y="873.8" text-anchor="end" font-family="'Liberation Serif', 'Times New Roman', serif" font-weight="bold" font-size="20" fill="#111">2.00</text>
<line x1="124.5" y1="711.5" x2="128" y2="711.5" stroke="#222" stroke-width="1.3"/>
<text x="120" y="718.3" text-anchor="end" font-family="'Liberation Serif', 'Times New Roman', serif" font-weight="bold" font-size="20" fill="#111">3.00</text>
<line x1="243.5" y1="1178" x2="243.5" y2="1181.5" stroke="#222" stroke-width="1.3"/>
<text x="243.5" y="1200.3" text-anchor="middle" font-family="'Liberation Serif', 'Times New Roman', serif" font-weight="bold" font-size="20.5" fill="#111">3.75</text>
<line x1="422" y1="1178" x2="422" y2="1181.5" stroke="#222" stroke-width="1.3"/>
<text x="422" y="1200.3" text-anchor="middle" font-family="'Liberation Serif', 'Times New Roman', serif" font-weight="bold" font-size="20.5" fill="#111">7.50</text>
<line x1="599.5" y1="1178" x2="599.5" y2="1181.5" stroke="#222" stroke-width="1.3"/>
<text x="599.5" y="1200.3" text-anchor="middle" font-family="'Liberation Serif', 'Times New Roman', serif" font-weight="bold" font-size="20.5" fill="#111">11.25</text>
<text x="421.5" y="1225.2" text-anchor="middle" font-family="'Liberation Sans', Arial, sans-serif" font-weight="bold" font-size="23" fill="#111">Si rate (mg per plant)</text>
<text transform="translate(44.3,945.8) rotate(-90)" text-anchor="middle" font-family="'Liberation Sans', Arial, sans-serif" font-weight="bold" font-size="23" fill="#111">Potassium concentration</text>
<text transform="translate(75,949.3) rotate(-90)" text-anchor="middle" font-family="'DejaVu Sans', sans-serif" font-size="24.8" fill="#111">(g kg<tspan font-size="15" dy="-9.5">−1</tspan><tspan dy="9.5">)</tspan></text>
<text x="136.3" y="720.8" font-family="'Liberation Serif', 'Times New Roman', serif" font-weight="bold" font-size="19.6" fill="#111">Se<tspan font-weight="normal" font-size="19.21" dx="0.8" dy="1.4" letter-spacing="-0.3">*</tspan></text>
<text x="132.5" y="744.5" font-family="'Liberation Serif', 'Times New Roman', serif" font-weight="bold" font-size="19.6" fill="#111">Si<tspan font-weight="normal" font-size="19.21" dx="0.8" dy="1.4" letter-spacing="-0.3">**</tspan></text>
<text x="138.8" y="767.8" font-family="'Liberation Serif', 'Times New Roman', serif" font-weight="bold" font-size="19.6" fill="#111">SexSi<tspan font-weight="normal" font-size="19.21" dx="0.8" dy="1.4" letter-spacing="-0.3">*</tspan></text>
<rect x="526.5" y="684.15" width="37.5" height="12.5" fill="#ffffff" stroke="#1e1e1e" stroke-width="1.3"/>
<text x="579.4" y="696.65" font-family="'DejaVu Sans', sans-serif" font-size="18.9" fill="#111">Fall 2022</text>
<rect x="526.5" y="711.9" width="37.5" height="12.5" fill="#add8e6" stroke="#1e1e1e" stroke-width="1.3"/>
<text x="579.4" y="724.4" font-family="'DejaVu Sans', sans-serif" font-size="18.9" fill="#111">Spring 2023</text>
<rect x="526.5" y="739.9" width="37.5" height="12.5" fill="#000080" stroke="#1e1e1e" stroke-width="1.3"/>
<text x="579.4" y="752.4" font-family="'DejaVu Sans', sans-serif" font-size="18.9" fill="#111">Summer 2023</text>
<rect x="526.5" y="767.4" width="37.5" height="12.5" fill="#90ee90" stroke="#1e1e1e" stroke-width="1.3"/>
<text x="579.4" y="779.9" font-family="'DejaVu Sans', sans-serif" font-size="18.9" fill="#111">Fall 2023</text>
<rect x="526.5" y="795.4" width="37.5" height="12.5" fill="#ffa500" stroke="#1e1e1e" stroke-width="1.3"/>
<text x="579.4" y="807.9" font-family="'DejaVu Sans', sans-serif" font-size="18.9" fill="#111">Spring 2024</text>
</svg>
</body></html>
